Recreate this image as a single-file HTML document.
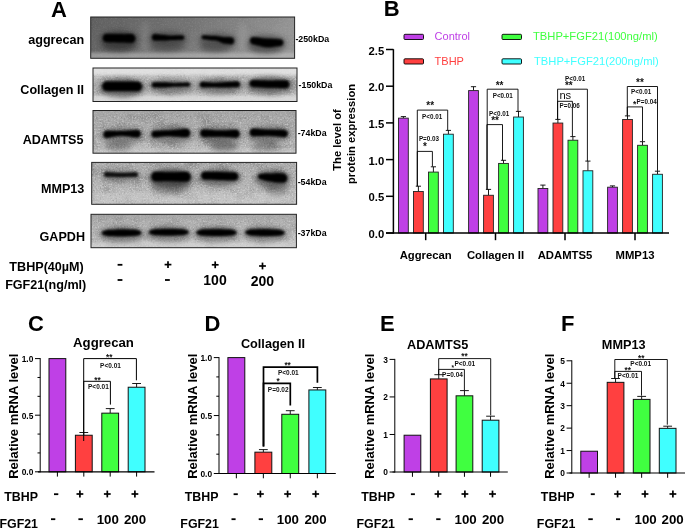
<!DOCTYPE html>
<html lang="en"><head><meta charset="utf-8"><title>FGF21 figure</title>
<style>
html,body{margin:0;padding:0;background:#fff;}
body{width:685px;height:528px;overflow:hidden;}
svg{display:block;font-family:"Liberation Sans", Arial, Helvetica, sans-serif;}
</style></head><body>
<svg width="685" height="528" viewBox="0 0 685 528">
<rect x="0" y="0" width="685" height="528" fill="#fff"/>
<defs>
<filter id="blur1" x="-20%" y="-60%" width="140%" height="220%"><feGaussianBlur stdDeviation="0.9"/></filter>
<filter id="blur2" x="-20%" y="-80%" width="140%" height="260%"><feGaussianBlur stdDeviation="1.6"/></filter>
<filter id="blur3" x="-30%" y="-100%" width="160%" height="300%"><feGaussianBlur stdDeviation="2.6"/></filter>
<filter id="grain" x="0" y="0" width="100%" height="100%" color-interpolation-filters="sRGB">
 <feTurbulence type="fractalNoise" baseFrequency="0.62" numOctaves="2" seed="11" result="n"/>
 <feColorMatrix in="n" type="matrix" values="0 0 0 0 1  0 0 0 0 1  0 0 0 0 1  2.6 0 0 0 -1.2" result="lt"/>
 <feColorMatrix in="n" type="matrix" values="0 0 0 0 0.15  0 0 0 0 0.15  0 0 0 0 0.15  0 -2.2 0 0 0.95" result="dk"/>
 <feTurbulence type="fractalNoise" baseFrequency="0.06 0.09" numOctaves="2" seed="3" result="m"/>
 <feColorMatrix in="m" type="matrix" values="0 0 0 0 0.2  0 0 0 0 0.2  0 0 0 0 0.2  0 0 -1.6 0 0.85" result="mot"/>
 <feMerge><feMergeNode in="mot"/><feMergeNode in="dk"/><feMergeNode in="lt"/></feMerge>
</filter>
<linearGradient id="b1" x1="0" y1="0" x2="1" y2="0.12"><stop offset="0" stop-color="#606060"/><stop offset="0.5" stop-color="#757575"/><stop offset="1" stop-color="#959595"/></linearGradient>
<linearGradient id="b2" x1="0" y1="0" x2="0" y2="1"><stop offset="0" stop-color="#cfcfcf"/><stop offset="0.5" stop-color="#a9a9a9"/><stop offset="1" stop-color="#c4c4c4"/></linearGradient>
<linearGradient id="b3" x1="0" y1="0" x2="0" y2="1"><stop offset="0" stop-color="#a2a2a2"/><stop offset="0.6" stop-color="#adadad"/><stop offset="1" stop-color="#bcbcbc"/></linearGradient>
<linearGradient id="b4" x1="0" y1="0" x2="0" y2="1"><stop offset="0" stop-color="#a8a8a8"/><stop offset="0.5" stop-color="#b2b2b2"/><stop offset="1" stop-color="#bebebe"/></linearGradient>
<linearGradient id="b5" x1="0" y1="0" x2="0.3" y2="1"><stop offset="0" stop-color="#a6a6a6"/><stop offset="0.6" stop-color="#b4b4b4"/><stop offset="1" stop-color="#c6c6c6"/></linearGradient>
<clipPath id="cb1"><rect x="90.7" y="17" width="203.9" height="41.3"/></clipPath>
<clipPath id="cb2"><rect x="93" y="68" width="204.0" height="33.5"/></clipPath>
<clipPath id="cb3"><rect x="93" y="110.5" width="203.0" height="42.7"/></clipPath>
<clipPath id="cb4"><rect x="91.7" y="162.4" width="204.9" height="41.9"/></clipPath>
<clipPath id="cb5"><rect x="91" y="214.3" width="205.4" height="33.4"/></clipPath>
</defs>
<text x="51.0" y="16.5" font-size="22" font-weight="bold" text-anchor="start" fill="#000" >A</text>
<text x="383.8" y="16.3" font-size="22" font-weight="bold" text-anchor="start" fill="#000" >B</text>
<text x="28.0" y="331.0" font-size="22" font-weight="bold" text-anchor="start" fill="#000" >C</text>
<text x="204.5" y="331.0" font-size="22" font-weight="bold" text-anchor="start" fill="#000" >D</text>
<text x="380.0" y="331.0" font-size="22" font-weight="bold" text-anchor="start" fill="#000" >E</text>
<text x="561.0" y="331.0" font-size="22" font-weight="bold" text-anchor="start" fill="#000" >F</text>
<g clip-path="url(#cb1)">
<rect x="90.7" y="17" width="203.9" height="41.3" fill="url(#b1)"/>
<rect x="90.7" y="17" width="203.9" height="41.3" filter="url(#grain)" opacity="0.07"/>
<rect x="88" y="52.5" width="210" height="8" fill="#c4c4c4" opacity="0.55" filter="url(#blur2)"/><rect x="141" y="22" width="8" height="30" fill="#a8a8a8" opacity="0.22" filter="url(#blur3)"/><rect x="238" y="22" width="9" height="30" fill="#b4b4b4" opacity="0.22" filter="url(#blur3)"/>
<ellipse cx="119.1" cy="39.8" rx="19.4" ry="9.5" fill="#1a1a1a" opacity="0.4" filter="url(#blur3)"/><ellipse cx="119.0" cy="46.0" rx="17.0" ry="6.0" fill="#222" opacity="0.35" filter="url(#blur3)"/><path d="M102.7,38.0 L103.9,35.1 L105.0,34.3 L106.2,34.0 L107.4,33.9 L108.5,33.9 L109.7,33.9 L110.9,33.9 L112.0,33.9 L113.2,34.0 L114.4,34.0 L115.5,34.0 L116.7,34.0 L117.9,34.0 L119.1,34.1 L120.2,34.1 L121.4,34.1 L122.6,34.1 L123.7,34.2 L124.9,34.2 L126.1,34.1 L127.2,34.1 L128.4,34.1 L129.6,34.1 L130.7,34.1 L131.9,34.1 L133.1,34.6 L134.2,35.5 L135.4,38.5 L135.4,38.5 L134.2,41.5 L133.1,42.4 L131.9,42.8 L130.7,42.9 L129.6,42.8 L128.4,42.8 L127.2,42.7 L126.1,42.7 L124.9,42.6 L123.7,42.6 L122.6,42.5 L121.4,42.5 L120.2,42.5 L119.1,42.4 L117.9,42.4 L116.7,42.4 L115.5,42.3 L114.4,42.3 L113.2,42.3 L112.0,42.2 L110.9,42.2 L109.7,42.2 L108.5,42.2 L107.4,42.1 L106.2,42.1 L105.0,41.7 L103.9,40.9 L102.7,38.0Z" fill="#222" opacity="0.5" stroke="#222" stroke-width="1.2" stroke-linejoin="round" filter="url(#blur2)"/><path d="M102.7,38.0 L103.9,35.1 L105.0,34.3 L106.2,34.0 L107.4,33.9 L108.5,33.9 L109.7,33.9 L110.9,33.9 L112.0,33.9 L113.2,34.0 L114.4,34.0 L115.5,34.0 L116.7,34.0 L117.9,34.0 L119.1,34.1 L120.2,34.1 L121.4,34.1 L122.6,34.1 L123.7,34.2 L124.9,34.2 L126.1,34.1 L127.2,34.1 L128.4,34.1 L129.6,34.1 L130.7,34.1 L131.9,34.1 L133.1,34.6 L134.2,35.5 L135.4,38.5 L135.4,38.5 L134.2,41.5 L133.1,42.4 L131.9,42.8 L130.7,42.9 L129.6,42.8 L128.4,42.8 L127.2,42.7 L126.1,42.7 L124.9,42.6 L123.7,42.6 L122.6,42.5 L121.4,42.5 L120.2,42.5 L119.1,42.4 L117.9,42.4 L116.7,42.4 L115.5,42.3 L114.4,42.3 L113.2,42.3 L112.0,42.2 L110.9,42.2 L109.7,42.2 L108.5,42.2 L107.4,42.1 L106.2,42.1 L105.0,41.7 L103.9,40.9 L102.7,38.0Z" fill="#040404" opacity="1" filter="url(#blur1)"/><ellipse cx="168.1" cy="39.1" rx="19.2" ry="8.3" fill="#1a1a1a" opacity="0.3" filter="url(#blur3)"/><ellipse cx="168.0" cy="46.0" rx="17.0" ry="6.0" fill="#222" opacity="0.3" filter="url(#blur3)"/><path d="M151.8,37.3 L153.0,34.8 L154.1,34.2 L155.3,34.2 L156.4,34.3 L157.6,34.5 L158.8,34.6 L159.9,34.8 L161.1,34.9 L162.2,35.0 L163.4,35.0 L164.6,35.1 L165.7,35.3 L166.9,35.4 L168.1,35.6 L169.2,35.7 L170.4,35.7 L171.5,35.7 L172.7,35.7 L173.9,35.7 L175.0,35.6 L176.2,35.6 L177.3,35.6 L178.5,35.5 L179.7,35.5 L180.8,35.4 L182.0,35.4 L183.1,35.7 L184.3,37.6 L184.3,37.6 L183.1,39.5 L182.0,39.8 L180.8,39.8 L179.7,39.8 L178.5,39.8 L177.3,39.8 L176.2,39.9 L175.0,39.9 L173.9,39.9 L172.7,39.9 L171.5,39.9 L170.4,40.0 L169.2,40.1 L168.1,40.2 L166.9,40.4 L165.7,40.5 L164.6,40.6 L163.4,40.6 L162.2,40.6 L161.1,40.6 L159.9,40.5 L158.8,40.5 L157.6,40.5 L156.4,40.6 L155.3,40.6 L154.1,40.5 L153.0,39.8 L151.8,37.3Z" fill="#222" opacity="0.5" stroke="#222" stroke-width="1.2" stroke-linejoin="round" filter="url(#blur2)"/><path d="M151.8,37.3 L153.0,34.8 L154.1,34.2 L155.3,34.2 L156.4,34.3 L157.6,34.5 L158.8,34.6 L159.9,34.8 L161.1,34.9 L162.2,35.0 L163.4,35.0 L164.6,35.1 L165.7,35.3 L166.9,35.4 L168.1,35.6 L169.2,35.7 L170.4,35.7 L171.5,35.7 L172.7,35.7 L173.9,35.7 L175.0,35.6 L176.2,35.6 L177.3,35.6 L178.5,35.5 L179.7,35.5 L180.8,35.4 L182.0,35.4 L183.1,35.7 L184.3,37.6 L184.3,37.6 L183.1,39.5 L182.0,39.8 L180.8,39.8 L179.7,39.8 L178.5,39.8 L177.3,39.8 L176.2,39.9 L175.0,39.9 L173.9,39.9 L172.7,39.9 L171.5,39.9 L170.4,40.0 L169.2,40.1 L168.1,40.2 L166.9,40.4 L165.7,40.5 L164.6,40.6 L163.4,40.6 L162.2,40.6 L161.1,40.6 L159.9,40.5 L158.8,40.5 L157.6,40.5 L156.4,40.6 L155.3,40.6 L154.1,40.5 L153.0,39.8 L151.8,37.3Z" fill="#040404" opacity="1" filter="url(#blur1)"/><ellipse cx="217.9" cy="40.7" rx="19.3" ry="8.6" fill="#1a1a1a" opacity="0.3" filter="url(#blur3)"/><ellipse cx="216.0" cy="47.0" rx="16.0" ry="6.0" fill="#222" opacity="0.3" filter="url(#blur3)"/><path d="M201.6,37.2 L202.8,35.5 L203.9,35.5 L205.1,35.5 L206.3,35.6 L207.4,35.7 L208.6,35.8 L209.8,35.9 L210.9,36.0 L212.1,36.0 L213.2,36.1 L214.4,36.1 L215.6,36.1 L216.7,36.2 L217.9,36.3 L219.1,36.5 L220.2,36.7 L221.4,36.9 L222.6,37.0 L223.7,37.2 L224.9,37.3 L226.0,37.3 L227.2,37.3 L228.4,37.3 L229.5,37.3 L230.7,37.4 L231.9,37.6 L233.0,38.3 L234.2,41.0 L234.2,41.0 L233.0,43.6 L231.9,44.2 L230.7,44.3 L229.5,44.0 L228.4,43.9 L227.2,43.7 L226.0,43.7 L224.9,43.6 L223.7,43.4 L222.6,43.0 L221.4,42.5 L220.2,41.9 L219.1,41.4 L217.9,40.9 L216.7,40.6 L215.6,40.4 L214.4,40.3 L213.2,40.3 L212.1,40.2 L210.9,40.1 L209.8,39.9 L208.6,39.7 L207.4,39.5 L206.3,39.4 L205.1,39.2 L203.9,39.1 L202.8,38.9 L201.6,37.2Z" fill="#222" opacity="0.5" stroke="#222" stroke-width="1.2" stroke-linejoin="round" filter="url(#blur2)"/><path d="M201.6,37.2 L202.8,35.5 L203.9,35.5 L205.1,35.5 L206.3,35.6 L207.4,35.7 L208.6,35.8 L209.8,35.9 L210.9,36.0 L212.1,36.0 L213.2,36.1 L214.4,36.1 L215.6,36.1 L216.7,36.2 L217.9,36.3 L219.1,36.5 L220.2,36.7 L221.4,36.9 L222.6,37.0 L223.7,37.2 L224.9,37.3 L226.0,37.3 L227.2,37.3 L228.4,37.3 L229.5,37.3 L230.7,37.4 L231.9,37.6 L233.0,38.3 L234.2,41.0 L234.2,41.0 L233.0,43.6 L231.9,44.2 L230.7,44.3 L229.5,44.0 L228.4,43.9 L227.2,43.7 L226.0,43.7 L224.9,43.6 L223.7,43.4 L222.6,43.0 L221.4,42.5 L220.2,41.9 L219.1,41.4 L217.9,40.9 L216.7,40.6 L215.6,40.4 L214.4,40.3 L213.2,40.3 L212.1,40.2 L210.9,40.1 L209.8,39.9 L208.6,39.7 L207.4,39.5 L206.3,39.4 L205.1,39.2 L203.9,39.1 L202.8,38.9 L201.6,37.2Z" fill="#040404" opacity="1" filter="url(#blur1)"/><ellipse cx="266.7" cy="43.6" rx="19.7" ry="9.3" fill="#1a1a1a" opacity="0.38" filter="url(#blur3)"/><ellipse cx="266.0" cy="49.0" rx="16.0" ry="5.0" fill="#222" opacity="0.2" filter="url(#blur3)"/><path d="M250.0,40.6 L251.2,38.0 L252.4,37.4 L253.6,37.2 L254.8,37.4 L256.0,37.5 L257.2,37.6 L258.4,37.8 L259.5,37.9 L260.7,38.1 L261.9,38.3 L263.1,38.4 L264.3,38.5 L265.5,38.6 L266.7,38.7 L267.9,38.7 L269.1,38.7 L270.3,38.7 L271.5,38.8 L272.7,38.9 L273.9,38.9 L275.0,39.0 L276.2,39.1 L277.4,39.2 L278.6,39.3 L279.8,39.4 L281.0,39.6 L282.2,40.2 L283.4,42.6 L283.4,42.6 L282.2,45.1 L281.0,45.7 L279.8,45.9 L278.6,46.1 L277.4,46.2 L276.2,46.4 L275.0,46.6 L273.9,46.8 L272.7,47.0 L271.5,47.1 L270.3,47.2 L269.1,47.3 L267.9,47.3 L266.7,47.2 L265.5,47.1 L264.3,46.9 L263.1,46.7 L261.9,46.4 L260.7,46.1 L259.5,45.8 L258.4,45.5 L257.2,45.2 L256.0,44.9 L254.8,44.6 L253.6,44.4 L252.4,44.0 L251.2,43.3 L250.0,40.6Z" fill="#222" opacity="0.5" stroke="#222" stroke-width="1.2" stroke-linejoin="round" filter="url(#blur2)"/><path d="M250.0,40.6 L251.2,38.0 L252.4,37.4 L253.6,37.2 L254.8,37.4 L256.0,37.5 L257.2,37.6 L258.4,37.8 L259.5,37.9 L260.7,38.1 L261.9,38.3 L263.1,38.4 L264.3,38.5 L265.5,38.6 L266.7,38.7 L267.9,38.7 L269.1,38.7 L270.3,38.7 L271.5,38.8 L272.7,38.9 L273.9,38.9 L275.0,39.0 L276.2,39.1 L277.4,39.2 L278.6,39.3 L279.8,39.4 L281.0,39.6 L282.2,40.2 L283.4,42.6 L283.4,42.6 L282.2,45.1 L281.0,45.7 L279.8,45.9 L278.6,46.1 L277.4,46.2 L276.2,46.4 L275.0,46.6 L273.9,46.8 L272.7,47.0 L271.5,47.1 L270.3,47.2 L269.1,47.3 L267.9,47.3 L266.7,47.2 L265.5,47.1 L264.3,46.9 L263.1,46.7 L261.9,46.4 L260.7,46.1 L259.5,45.8 L258.4,45.5 L257.2,45.2 L256.0,44.9 L254.8,44.6 L253.6,44.4 L252.4,44.0 L251.2,43.3 L250.0,40.6Z" fill="#040404" opacity="1" filter="url(#blur1)"/>
</g>
<rect x="90.7" y="17" width="203.9" height="41.3" fill="none" stroke="#222" stroke-width="1"/>
<g clip-path="url(#cb2)">
<rect x="93" y="68" width="204.0" height="33.5" fill="url(#b2)"/>
<rect x="93" y="68" width="204.0" height="33.5" filter="url(#grain)" opacity="0.3"/>
<rect x="90" y="66" width="210" height="9" fill="#e6e6e6" opacity="0.8" filter="url(#blur2)"/><rect x="90" y="95.5" width="210" height="8" fill="#dedede" opacity="0.8" filter="url(#blur2)"/>
<ellipse cx="122.1" cy="87.9" rx="22.9" ry="9.7" fill="#1a1a1a" opacity="0.5" filter="url(#blur3)"/><path d="M102.2,86.3 L103.6,83.0 L105.0,82.1 L106.5,81.8 L107.9,81.8 L109.3,81.8 L110.7,81.7 L112.2,81.7 L113.6,81.7 L115.0,81.7 L116.4,81.7 L117.8,81.7 L119.3,81.7 L120.7,81.7 L122.1,81.7 L123.5,81.7 L124.9,81.7 L126.4,81.7 L127.8,81.8 L129.2,81.8 L130.6,81.8 L132.1,81.8 L133.5,81.8 L134.9,81.9 L136.3,81.9 L137.7,81.9 L139.2,82.2 L140.6,83.2 L142.0,86.5 L142.0,86.5 L140.6,89.8 L139.2,90.8 L137.7,91.1 L136.3,91.1 L134.9,91.1 L133.5,91.1 L132.1,91.1 L130.6,91.1 L129.2,91.1 L127.8,91.1 L126.4,91.1 L124.9,91.1 L123.5,91.1 L122.1,91.1 L120.7,91.1 L119.3,91.1 L117.8,91.0 L116.4,91.0 L115.0,91.0 L113.6,91.0 L112.2,90.9 L110.7,90.9 L109.3,90.9 L107.9,90.8 L106.5,90.8 L105.0,90.5 L103.6,89.6 L102.2,86.3Z" fill="#222" opacity="0.5" stroke="#222" stroke-width="1.2" stroke-linejoin="round" filter="url(#blur2)"/><path d="M102.2,86.3 L103.6,83.0 L105.0,82.1 L106.5,81.8 L107.9,81.8 L109.3,81.8 L110.7,81.7 L112.2,81.7 L113.6,81.7 L115.0,81.7 L116.4,81.7 L117.8,81.7 L119.3,81.7 L120.7,81.7 L122.1,81.7 L123.5,81.7 L124.9,81.7 L126.4,81.7 L127.8,81.8 L129.2,81.8 L130.6,81.8 L132.1,81.8 L133.5,81.8 L134.9,81.9 L136.3,81.9 L137.7,81.9 L139.2,82.2 L140.6,83.2 L142.0,86.5 L142.0,86.5 L140.6,89.8 L139.2,90.8 L137.7,91.1 L136.3,91.1 L134.9,91.1 L133.5,91.1 L132.1,91.1 L130.6,91.1 L129.2,91.1 L127.8,91.1 L126.4,91.1 L124.9,91.1 L123.5,91.1 L122.1,91.1 L120.7,91.1 L119.3,91.1 L117.8,91.0 L116.4,91.0 L115.0,91.0 L113.6,91.0 L112.2,90.9 L110.7,90.9 L109.3,90.9 L107.9,90.8 L106.5,90.8 L105.0,90.5 L103.6,89.6 L102.2,86.3Z" fill="#040404" opacity="1" filter="url(#blur1)"/><ellipse cx="171.0" cy="86.3" rx="22.2" ry="7.4" fill="#1a1a1a" opacity="0.36" filter="url(#blur3)"/><path d="M151.8,84.9 L153.2,82.7 L154.5,82.5 L155.9,82.5 L157.3,82.5 L158.7,82.6 L160.0,82.6 L161.4,82.6 L162.8,82.6 L164.1,82.6 L165.5,82.6 L166.9,82.6 L168.3,82.7 L169.6,82.9 L171.0,83.0 L172.4,83.1 L173.7,83.2 L175.1,83.2 L176.5,83.2 L177.9,83.1 L179.2,83.1 L180.6,83.0 L182.0,83.0 L183.3,82.9 L184.7,82.9 L186.1,82.8 L187.5,82.8 L188.8,82.8 L190.2,84.5 L190.2,84.5 L188.8,86.2 L187.5,86.3 L186.1,86.3 L184.7,86.3 L183.3,86.3 L182.0,86.3 L180.6,86.4 L179.2,86.4 L177.9,86.4 L176.5,86.5 L175.1,86.5 L173.7,86.6 L172.4,86.6 L171.0,86.8 L169.6,86.9 L168.3,87.1 L166.9,87.2 L165.5,87.2 L164.1,87.2 L162.8,87.2 L161.4,87.2 L160.0,87.2 L158.7,87.2 L157.3,87.3 L155.9,87.3 L154.5,87.3 L153.2,87.1 L151.8,84.9Z" fill="#222" opacity="0.5" stroke="#222" stroke-width="1.2" stroke-linejoin="round" filter="url(#blur2)"/><path d="M151.8,84.9 L153.2,82.7 L154.5,82.5 L155.9,82.5 L157.3,82.5 L158.7,82.6 L160.0,82.6 L161.4,82.6 L162.8,82.6 L164.1,82.6 L165.5,82.6 L166.9,82.6 L168.3,82.7 L169.6,82.9 L171.0,83.0 L172.4,83.1 L173.7,83.2 L175.1,83.2 L176.5,83.2 L177.9,83.1 L179.2,83.1 L180.6,83.0 L182.0,83.0 L183.3,82.9 L184.7,82.9 L186.1,82.8 L187.5,82.8 L188.8,82.8 L190.2,84.5 L190.2,84.5 L188.8,86.2 L187.5,86.3 L186.1,86.3 L184.7,86.3 L183.3,86.3 L182.0,86.3 L180.6,86.4 L179.2,86.4 L177.9,86.4 L176.5,86.5 L175.1,86.5 L173.7,86.6 L172.4,86.6 L171.0,86.8 L169.6,86.9 L168.3,87.1 L166.9,87.2 L165.5,87.2 L164.1,87.2 L162.8,87.2 L161.4,87.2 L160.0,87.2 L158.7,87.2 L157.3,87.3 L155.9,87.3 L154.5,87.3 L153.2,87.1 L151.8,84.9Z" fill="#040404" opacity="1" filter="url(#blur1)"/><ellipse cx="219.9" cy="86.1" rx="23.1" ry="7.8" fill="#1a1a1a" opacity="0.4" filter="url(#blur3)"/><path d="M199.8,84.6 L201.2,82.3 L202.7,82.1 L204.1,82.2 L205.5,82.3 L207.0,82.4 L208.4,82.6 L209.9,82.7 L211.3,82.8 L212.7,82.9 L214.2,82.9 L215.6,82.9 L217.0,82.8 L218.5,82.8 L219.9,82.7 L221.3,82.5 L222.8,82.4 L224.2,82.3 L225.6,82.2 L227.1,82.1 L228.5,82.0 L229.9,81.9 L231.4,81.9 L232.8,81.8 L234.3,81.7 L235.7,81.6 L237.1,81.6 L238.6,81.9 L240.0,84.3 L240.0,84.3 L238.6,86.7 L237.1,87.1 L235.7,87.1 L234.3,87.1 L232.8,87.1 L231.4,87.1 L229.9,87.2 L228.5,87.2 L227.1,87.3 L225.6,87.3 L224.2,87.3 L222.8,87.3 L221.3,87.3 L219.9,87.2 L218.5,87.2 L217.0,87.2 L215.6,87.1 L214.2,87.1 L212.7,87.1 L211.3,87.1 L209.9,87.1 L208.4,87.1 L207.0,87.1 L205.5,87.1 L204.1,87.2 L202.7,87.2 L201.2,86.9 L199.8,84.6Z" fill="#222" opacity="0.5" stroke="#222" stroke-width="1.2" stroke-linejoin="round" filter="url(#blur2)"/><path d="M199.8,84.6 L201.2,82.3 L202.7,82.1 L204.1,82.2 L205.5,82.3 L207.0,82.4 L208.4,82.6 L209.9,82.7 L211.3,82.8 L212.7,82.9 L214.2,82.9 L215.6,82.9 L217.0,82.8 L218.5,82.8 L219.9,82.7 L221.3,82.5 L222.8,82.4 L224.2,82.3 L225.6,82.2 L227.1,82.1 L228.5,82.0 L229.9,81.9 L231.4,81.9 L232.8,81.8 L234.3,81.7 L235.7,81.6 L237.1,81.6 L238.6,81.9 L240.0,84.3 L240.0,84.3 L238.6,86.7 L237.1,87.1 L235.7,87.1 L234.3,87.1 L232.8,87.1 L231.4,87.1 L229.9,87.2 L228.5,87.2 L227.1,87.3 L225.6,87.3 L224.2,87.3 L222.8,87.3 L221.3,87.3 L219.9,87.2 L218.5,87.2 L217.0,87.2 L215.6,87.1 L214.2,87.1 L212.7,87.1 L211.3,87.1 L209.9,87.1 L208.4,87.1 L207.0,87.1 L205.5,87.1 L204.1,87.2 L202.7,87.2 L201.2,86.9 L199.8,84.6Z" fill="#040404" opacity="1" filter="url(#blur1)"/><ellipse cx="269.4" cy="85.4" rx="22.9" ry="8.8" fill="#1a1a1a" opacity="0.48" filter="url(#blur3)"/><path d="M249.6,83.4 L251.0,80.7 L252.4,80.2 L253.9,80.2 L255.3,80.2 L256.7,80.3 L258.1,80.3 L259.5,80.4 L260.9,80.5 L262.4,80.5 L263.8,80.6 L265.2,80.6 L266.6,80.7 L268.0,80.7 L269.4,80.7 L270.9,80.7 L272.3,80.7 L273.7,80.7 L275.1,80.6 L276.5,80.6 L278.0,80.6 L279.4,80.5 L280.8,80.5 L282.2,80.5 L283.6,80.5 L285.0,80.4 L286.5,80.5 L287.9,81.2 L289.3,84.2 L289.3,84.2 L287.9,87.2 L286.5,87.9 L285.0,88.0 L283.6,87.9 L282.2,87.9 L280.8,87.9 L279.4,87.9 L278.0,87.8 L276.5,87.8 L275.1,87.8 L273.7,87.7 L272.3,87.7 L270.9,87.7 L269.4,87.7 L268.0,87.7 L266.6,87.7 L265.2,87.6 L263.8,87.5 L262.4,87.4 L260.9,87.3 L259.5,87.2 L258.1,87.1 L256.7,87.0 L255.3,86.9 L253.9,86.8 L252.4,86.7 L251.0,86.1 L249.6,83.4Z" fill="#222" opacity="0.5" stroke="#222" stroke-width="1.2" stroke-linejoin="round" filter="url(#blur2)"/><path d="M249.6,83.4 L251.0,80.7 L252.4,80.2 L253.9,80.2 L255.3,80.2 L256.7,80.3 L258.1,80.3 L259.5,80.4 L260.9,80.5 L262.4,80.5 L263.8,80.6 L265.2,80.6 L266.6,80.7 L268.0,80.7 L269.4,80.7 L270.9,80.7 L272.3,80.7 L273.7,80.7 L275.1,80.6 L276.5,80.6 L278.0,80.6 L279.4,80.5 L280.8,80.5 L282.2,80.5 L283.6,80.5 L285.0,80.4 L286.5,80.5 L287.9,81.2 L289.3,84.2 L289.3,84.2 L287.9,87.2 L286.5,87.9 L285.0,88.0 L283.6,87.9 L282.2,87.9 L280.8,87.9 L279.4,87.9 L278.0,87.8 L276.5,87.8 L275.1,87.8 L273.7,87.7 L272.3,87.7 L270.9,87.7 L269.4,87.7 L268.0,87.7 L266.6,87.7 L265.2,87.6 L263.8,87.5 L262.4,87.4 L260.9,87.3 L259.5,87.2 L258.1,87.1 L256.7,87.0 L255.3,86.9 L253.9,86.8 L252.4,86.7 L251.0,86.1 L249.6,83.4Z" fill="#040404" opacity="1" filter="url(#blur1)"/>
</g>
<rect x="93" y="68" width="204.0" height="33.5" fill="none" stroke="#222" stroke-width="1"/>
<g clip-path="url(#cb3)">
<rect x="93" y="110.5" width="203.0" height="42.7" fill="url(#b3)"/>
<rect x="93" y="110.5" width="203.0" height="42.7" filter="url(#grain)" opacity="0.36"/>
<rect x="90" y="108" width="210" height="7" fill="#a8a8a8" opacity="0.5" filter="url(#blur2)"/><rect x="90" y="148.5" width="210" height="6" fill="#d0d0d0" opacity="0.5" filter="url(#blur2)"/>
<ellipse cx="122.1" cy="135.4" rx="21.6" ry="8.7" fill="#1a1a1a" opacity="0.32" filter="url(#blur3)"/><ellipse cx="118.0" cy="146.0" rx="14.0" ry="5.0" fill="#222" opacity="0.28" filter="url(#blur3)"/><path d="M103.5,134.4 L104.8,131.6 L106.2,130.9 L107.5,130.9 L108.8,130.9 L110.1,131.0 L111.5,131.0 L112.8,131.1 L114.1,131.1 L115.5,131.1 L116.8,131.2 L118.1,131.2 L119.4,131.1 L120.8,131.1 L122.1,131.1 L123.4,131.0 L124.8,131.0 L126.1,130.9 L127.4,130.8 L128.7,130.7 L130.1,130.6 L131.4,130.5 L132.7,130.4 L134.1,130.3 L135.4,130.2 L136.7,130.2 L138.0,130.3 L139.4,131.0 L140.7,133.8 L140.7,133.8 L139.4,136.6 L138.0,137.3 L136.7,137.3 L135.4,137.2 L134.1,137.1 L132.7,136.9 L131.4,136.7 L130.1,136.5 L128.7,136.3 L127.4,136.2 L126.1,136.0 L124.8,135.9 L123.4,135.8 L122.1,135.7 L120.8,135.7 L119.4,135.8 L118.1,135.9 L116.8,136.0 L115.5,136.2 L114.1,136.5 L112.8,136.7 L111.5,137.0 L110.1,137.3 L108.8,137.5 L107.5,137.7 L106.2,137.8 L104.8,137.2 L103.5,134.4Z" fill="#222" opacity="0.5" stroke="#222" stroke-width="1.2" stroke-linejoin="round" filter="url(#blur2)"/><path d="M103.5,134.4 L104.8,131.6 L106.2,130.9 L107.5,130.9 L108.8,130.9 L110.1,131.0 L111.5,131.0 L112.8,131.1 L114.1,131.1 L115.5,131.1 L116.8,131.2 L118.1,131.2 L119.4,131.1 L120.8,131.1 L122.1,131.1 L123.4,131.0 L124.8,131.0 L126.1,130.9 L127.4,130.8 L128.7,130.7 L130.1,130.6 L131.4,130.5 L132.7,130.4 L134.1,130.3 L135.4,130.2 L136.7,130.2 L138.0,130.3 L139.4,131.0 L140.7,133.8 L140.7,133.8 L139.4,136.6 L138.0,137.3 L136.7,137.3 L135.4,137.2 L134.1,137.1 L132.7,136.9 L131.4,136.7 L130.1,136.5 L128.7,136.3 L127.4,136.2 L126.1,136.0 L124.8,135.9 L123.4,135.8 L122.1,135.7 L120.8,135.7 L119.4,135.8 L118.1,135.9 L116.8,136.0 L115.5,136.2 L114.1,136.5 L112.8,136.7 L111.5,137.0 L110.1,137.3 L108.8,137.5 L107.5,137.7 L106.2,137.8 L104.8,137.2 L103.5,134.4Z" fill="#040404" opacity="1" filter="url(#blur1)"/><ellipse cx="170.8" cy="135.0" rx="22.3" ry="9.2" fill="#1a1a1a" opacity="0.34" filter="url(#blur3)"/><path d="M151.5,134.2 L152.9,131.6 L154.3,131.0 L155.6,131.0 L157.0,130.9 L158.4,130.9 L159.8,130.8 L161.2,130.8 L162.6,130.7 L163.9,130.6 L165.3,130.6 L166.7,130.5 L168.1,130.4 L169.5,130.4 L170.8,130.3 L172.2,130.2 L173.6,130.1 L175.0,130.0 L176.4,129.9 L177.8,129.7 L179.1,129.6 L180.5,129.4 L181.9,129.3 L183.3,129.1 L184.7,129.0 L186.1,128.9 L187.4,129.1 L188.8,129.9 L190.2,133.0 L190.2,133.0 L188.8,136.1 L187.4,136.9 L186.1,137.1 L184.7,137.1 L183.3,137.0 L181.9,136.9 L180.5,136.8 L179.1,136.7 L177.8,136.6 L176.4,136.5 L175.0,136.4 L173.6,136.3 L172.2,136.2 L170.8,136.1 L169.5,136.1 L168.1,136.1 L166.7,136.1 L165.3,136.2 L163.9,136.3 L162.6,136.5 L161.2,136.6 L159.8,136.8 L158.4,137.0 L157.0,137.1 L155.6,137.2 L154.3,137.3 L152.9,136.8 L151.5,134.2Z" fill="#222" opacity="0.5" stroke="#222" stroke-width="1.2" stroke-linejoin="round" filter="url(#blur2)"/><path d="M151.5,134.2 L152.9,131.6 L154.3,131.0 L155.6,131.0 L157.0,130.9 L158.4,130.9 L159.8,130.8 L161.2,130.8 L162.6,130.7 L163.9,130.6 L165.3,130.6 L166.7,130.5 L168.1,130.4 L169.5,130.4 L170.8,130.3 L172.2,130.2 L173.6,130.1 L175.0,130.0 L176.4,129.9 L177.8,129.7 L179.1,129.6 L180.5,129.4 L181.9,129.3 L183.3,129.1 L184.7,129.0 L186.1,128.9 L187.4,129.1 L188.8,129.9 L190.2,133.0 L190.2,133.0 L188.8,136.1 L187.4,136.9 L186.1,137.1 L184.7,137.1 L183.3,137.0 L181.9,136.9 L180.5,136.8 L179.1,136.7 L177.8,136.6 L176.4,136.5 L175.0,136.4 L173.6,136.3 L172.2,136.2 L170.8,136.1 L169.5,136.1 L168.1,136.1 L166.7,136.1 L165.3,136.2 L163.9,136.3 L162.6,136.5 L161.2,136.6 L159.8,136.8 L158.4,137.0 L157.0,137.1 L155.6,137.2 L154.3,137.3 L152.9,136.8 L151.5,134.2Z" fill="#040404" opacity="1" filter="url(#blur1)"/><ellipse cx="219.9" cy="135.0" rx="22.7" ry="8.8" fill="#1a1a1a" opacity="0.34" filter="url(#blur3)"/><ellipse cx="224.0" cy="146.0" rx="14.0" ry="5.5" fill="#222" opacity="0.4" filter="url(#blur3)"/><path d="M200.2,133.2 L201.6,130.3 L203.0,129.7 L204.4,129.6 L205.8,129.7 L207.2,129.8 L208.6,129.9 L210.0,130.0 L211.5,130.1 L212.9,130.2 L214.3,130.3 L215.7,130.4 L217.1,130.5 L218.5,130.5 L219.9,130.5 L221.3,130.5 L222.7,130.5 L224.1,130.4 L225.5,130.4 L226.9,130.4 L228.3,130.3 L229.8,130.2 L231.2,130.2 L232.6,130.1 L234.0,130.1 L235.4,130.1 L236.8,130.1 L238.2,130.8 L239.6,133.8 L239.6,133.8 L238.2,136.7 L236.8,137.4 L235.4,137.5 L234.0,137.4 L232.6,137.3 L231.2,137.3 L229.8,137.1 L228.3,137.0 L226.9,137.0 L225.5,136.9 L224.1,136.8 L222.7,136.7 L221.3,136.7 L219.9,136.7 L218.5,136.7 L217.1,136.7 L215.7,136.7 L214.3,136.7 L212.9,136.8 L211.5,136.8 L210.0,136.8 L208.6,136.8 L207.2,136.8 L205.8,136.9 L204.4,136.9 L203.0,136.8 L201.6,136.1 L200.2,133.2Z" fill="#222" opacity="0.5" stroke="#222" stroke-width="1.2" stroke-linejoin="round" filter="url(#blur2)"/><path d="M200.2,133.2 L201.6,130.3 L203.0,129.7 L204.4,129.6 L205.8,129.7 L207.2,129.8 L208.6,129.9 L210.0,130.0 L211.5,130.1 L212.9,130.2 L214.3,130.3 L215.7,130.4 L217.1,130.5 L218.5,130.5 L219.9,130.5 L221.3,130.5 L222.7,130.5 L224.1,130.4 L225.5,130.4 L226.9,130.4 L228.3,130.3 L229.8,130.2 L231.2,130.2 L232.6,130.1 L234.0,130.1 L235.4,130.1 L236.8,130.1 L238.2,130.8 L239.6,133.8 L239.6,133.8 L238.2,136.7 L236.8,137.4 L235.4,137.5 L234.0,137.4 L232.6,137.3 L231.2,137.3 L229.8,137.1 L228.3,137.0 L226.9,137.0 L225.5,136.9 L224.1,136.8 L222.7,136.7 L221.3,136.7 L219.9,136.7 L218.5,136.7 L217.1,136.7 L215.7,136.7 L214.3,136.7 L212.9,136.8 L211.5,136.8 L210.0,136.8 L208.6,136.8 L207.2,136.8 L205.8,136.9 L204.4,136.9 L203.0,136.8 L201.6,136.1 L200.2,133.2Z" fill="#040404" opacity="1" filter="url(#blur1)"/><ellipse cx="268.8" cy="134.4" rx="22.1" ry="8.8" fill="#1a1a1a" opacity="0.34" filter="url(#blur3)"/><ellipse cx="266.0" cy="146.0" rx="14.0" ry="5.0" fill="#222" opacity="0.3" filter="url(#blur3)"/><path d="M249.7,132.4 L251.1,129.5 L252.4,128.8 L253.8,128.7 L255.1,128.8 L256.5,128.9 L257.9,129.1 L259.2,129.2 L260.6,129.3 L261.9,129.5 L263.3,129.6 L264.7,129.7 L266.0,129.7 L267.4,129.8 L268.8,129.8 L270.1,129.8 L271.5,129.8 L272.8,129.8 L274.2,129.9 L275.6,129.9 L276.9,130.0 L278.3,130.0 L279.6,130.0 L281.0,130.1 L282.4,130.1 L283.7,130.2 L285.1,130.2 L286.4,130.9 L287.8,133.6 L287.8,133.6 L286.4,136.3 L285.1,136.9 L283.7,136.9 L282.4,136.8 L281.0,136.7 L279.6,136.5 L278.3,136.4 L276.9,136.3 L275.6,136.1 L274.2,136.0 L272.8,135.9 L271.5,135.9 L270.1,135.8 L268.8,135.8 L267.4,135.8 L266.0,135.8 L264.7,135.8 L263.3,135.9 L261.9,135.9 L260.6,136.0 L259.2,136.0 L257.9,136.0 L256.5,136.1 L255.1,136.1 L253.8,136.2 L252.4,136.0 L251.1,135.3 L249.7,132.4Z" fill="#222" opacity="0.5" stroke="#222" stroke-width="1.2" stroke-linejoin="round" filter="url(#blur2)"/><path d="M249.7,132.4 L251.1,129.5 L252.4,128.8 L253.8,128.7 L255.1,128.8 L256.5,128.9 L257.9,129.1 L259.2,129.2 L260.6,129.3 L261.9,129.5 L263.3,129.6 L264.7,129.7 L266.0,129.7 L267.4,129.8 L268.8,129.8 L270.1,129.8 L271.5,129.8 L272.8,129.8 L274.2,129.9 L275.6,129.9 L276.9,130.0 L278.3,130.0 L279.6,130.0 L281.0,130.1 L282.4,130.1 L283.7,130.2 L285.1,130.2 L286.4,130.9 L287.8,133.6 L287.8,133.6 L286.4,136.3 L285.1,136.9 L283.7,136.9 L282.4,136.8 L281.0,136.7 L279.6,136.5 L278.3,136.4 L276.9,136.3 L275.6,136.1 L274.2,136.0 L272.8,135.9 L271.5,135.9 L270.1,135.8 L268.8,135.8 L267.4,135.8 L266.0,135.8 L264.7,135.8 L263.3,135.9 L261.9,135.9 L260.6,136.0 L259.2,136.0 L257.9,136.0 L256.5,136.1 L255.1,136.1 L253.8,136.2 L252.4,136.0 L251.1,135.3 L249.7,132.4Z" fill="#040404" opacity="1" filter="url(#blur1)"/>
</g>
<rect x="93" y="110.5" width="203.0" height="42.7" fill="none" stroke="#222" stroke-width="1"/>
<g clip-path="url(#cb4)">
<rect x="91.7" y="162.4" width="204.9" height="41.9" fill="url(#b4)"/>
<rect x="91.7" y="162.4" width="204.9" height="41.9" filter="url(#grain)" opacity="0.36"/>
<rect x="90" y="193" width="210" height="13" fill="#d8d8d8" opacity="0.3" filter="url(#blur3)"/>
<ellipse cx="121.0" cy="176.2" rx="20.0" ry="7.3" fill="#1a1a1a" opacity="0.25" filter="url(#blur3)"/><path d="M104.0,174.4 L105.2,172.4 L106.4,172.1 L107.6,172.2 L108.9,172.3 L110.1,172.4 L111.3,172.5 L112.5,172.6 L113.7,172.7 L114.9,172.8 L116.1,172.9 L117.4,173.0 L118.6,173.1 L119.8,173.1 L121.0,173.1 L122.2,173.1 L123.4,173.1 L124.6,173.0 L125.9,173.0 L127.1,172.9 L128.3,172.9 L129.5,172.8 L130.7,172.7 L131.9,172.7 L133.1,172.6 L134.4,172.6 L135.6,172.5 L136.8,172.7 L138.0,174.6 L138.0,174.6 L136.8,176.5 L135.6,176.7 L134.4,176.7 L133.1,176.7 L131.9,176.8 L130.7,176.8 L129.5,176.8 L128.3,176.8 L127.1,176.8 L125.9,176.9 L124.6,176.9 L123.4,176.9 L122.2,176.9 L121.0,176.9 L119.8,176.9 L118.6,176.9 L117.4,176.9 L116.1,176.9 L114.9,176.8 L113.7,176.8 L112.5,176.8 L111.3,176.8 L110.1,176.8 L108.9,176.7 L107.6,176.7 L106.4,176.7 L105.2,176.4 L104.0,174.4Z" fill="#222" opacity="0.5" stroke="#222" stroke-width="1.2" stroke-linejoin="round" filter="url(#blur2)"/><path d="M104.0,174.4 L105.2,172.4 L106.4,172.1 L107.6,172.2 L108.9,172.3 L110.1,172.4 L111.3,172.5 L112.5,172.6 L113.7,172.7 L114.9,172.8 L116.1,172.9 L117.4,173.0 L118.6,173.1 L119.8,173.1 L121.0,173.1 L122.2,173.1 L123.4,173.1 L124.6,173.0 L125.9,173.0 L127.1,172.9 L128.3,172.9 L129.5,172.8 L130.7,172.7 L131.9,172.7 L133.1,172.6 L134.4,172.6 L135.6,172.5 L136.8,172.7 L138.0,174.6 L138.0,174.6 L136.8,176.5 L135.6,176.7 L134.4,176.7 L133.1,176.7 L131.9,176.8 L130.7,176.8 L129.5,176.8 L128.3,176.8 L127.1,176.8 L125.9,176.9 L124.6,176.9 L123.4,176.9 L122.2,176.9 L121.0,176.9 L119.8,176.9 L118.6,176.9 L117.4,176.9 L116.1,176.9 L114.9,176.8 L113.7,176.8 L112.5,176.8 L111.3,176.8 L110.1,176.8 L108.9,176.7 L107.6,176.7 L106.4,176.7 L105.2,176.4 L104.0,174.4Z" fill="#040404" opacity="0.85" filter="url(#blur1)"/><ellipse cx="170.9" cy="178.2" rx="22.6" ry="9.9" fill="#1a1a1a" opacity="0.55" filter="url(#blur3)"/><ellipse cx="171.0" cy="186.0" rx="19.0" ry="8.0" fill="#222" opacity="0.3" filter="url(#blur3)"/><path d="M151.3,176.6 L152.7,173.3 L154.1,172.3 L155.5,172.0 L156.9,172.0 L158.3,172.0 L159.7,172.1 L161.1,172.1 L162.5,172.1 L163.9,172.2 L165.3,172.2 L166.7,172.3 L168.1,172.3 L169.5,172.3 L170.9,172.3 L172.4,172.3 L173.8,172.3 L175.2,172.2 L176.6,172.2 L178.0,172.2 L179.4,172.1 L180.8,172.1 L182.2,172.0 L183.6,172.0 L185.0,172.0 L186.4,172.0 L187.8,172.4 L189.2,173.4 L190.6,176.8 L190.6,176.8 L189.2,180.2 L187.8,181.2 L186.4,181.6 L185.0,181.6 L183.6,181.6 L182.2,181.5 L180.8,181.5 L179.4,181.4 L178.0,181.3 L176.6,181.3 L175.2,181.2 L173.8,181.2 L172.4,181.1 L170.9,181.1 L169.5,181.1 L168.1,181.1 L166.7,181.1 L165.3,181.1 L163.9,181.1 L162.5,181.1 L161.1,181.2 L159.7,181.2 L158.3,181.2 L156.9,181.2 L155.5,181.2 L154.1,180.9 L152.7,179.9 L151.3,176.6Z" fill="#222" opacity="0.5" stroke="#222" stroke-width="1.2" stroke-linejoin="round" filter="url(#blur2)"/><path d="M151.3,176.6 L152.7,173.3 L154.1,172.3 L155.5,172.0 L156.9,172.0 L158.3,172.0 L159.7,172.1 L161.1,172.1 L162.5,172.1 L163.9,172.2 L165.3,172.2 L166.7,172.3 L168.1,172.3 L169.5,172.3 L170.9,172.3 L172.4,172.3 L173.8,172.3 L175.2,172.2 L176.6,172.2 L178.0,172.2 L179.4,172.1 L180.8,172.1 L182.2,172.0 L183.6,172.0 L185.0,172.0 L186.4,172.0 L187.8,172.4 L189.2,173.4 L190.6,176.8 L190.6,176.8 L189.2,180.2 L187.8,181.2 L186.4,181.6 L185.0,181.6 L183.6,181.6 L182.2,181.5 L180.8,181.5 L179.4,181.4 L178.0,181.3 L176.6,181.3 L175.2,181.2 L173.8,181.2 L172.4,181.1 L170.9,181.1 L169.5,181.1 L168.1,181.1 L166.7,181.1 L165.3,181.1 L163.9,181.1 L162.5,181.1 L161.1,181.2 L159.7,181.2 L158.3,181.2 L156.9,181.2 L155.5,181.2 L154.1,180.9 L152.7,179.9 L151.3,176.6Z" fill="#040404" opacity="1" filter="url(#blur1)"/><ellipse cx="219.7" cy="177.5" rx="21.5" ry="9.0" fill="#1a1a1a" opacity="0.45" filter="url(#blur3)"/><path d="M201.2,175.6 L202.5,172.8 L203.8,172.1 L205.2,171.9 L206.5,171.9 L207.8,171.9 L209.1,171.9 L210.4,171.9 L211.8,171.9 L213.1,171.9 L214.4,171.9 L215.7,171.9 L217.1,171.9 L218.4,172.0 L219.7,172.0 L221.0,172.0 L222.3,172.1 L223.7,172.2 L225.0,172.2 L226.3,172.3 L227.6,172.3 L228.9,172.4 L230.3,172.4 L231.6,172.5 L232.9,172.5 L234.2,172.6 L235.6,172.8 L236.9,173.5 L238.2,176.4 L238.2,176.4 L236.9,179.3 L235.6,180.0 L234.2,180.2 L232.9,180.2 L231.6,180.2 L230.3,180.2 L228.9,180.2 L227.6,180.2 L226.3,180.2 L225.0,180.1 L223.7,180.1 L222.3,180.1 L221.0,180.0 L219.7,180.0 L218.4,180.0 L217.1,179.9 L215.7,179.8 L214.4,179.8 L213.1,179.7 L211.8,179.6 L210.4,179.6 L209.1,179.5 L207.8,179.4 L206.5,179.4 L205.2,179.4 L203.8,179.2 L202.5,178.4 L201.2,175.6Z" fill="#222" opacity="0.5" stroke="#222" stroke-width="1.2" stroke-linejoin="round" filter="url(#blur2)"/><path d="M201.2,175.6 L202.5,172.8 L203.8,172.1 L205.2,171.9 L206.5,171.9 L207.8,171.9 L209.1,171.9 L210.4,171.9 L211.8,171.9 L213.1,171.9 L214.4,171.9 L215.7,171.9 L217.1,171.9 L218.4,172.0 L219.7,172.0 L221.0,172.0 L222.3,172.1 L223.7,172.2 L225.0,172.2 L226.3,172.3 L227.6,172.3 L228.9,172.4 L230.3,172.4 L231.6,172.5 L232.9,172.5 L234.2,172.6 L235.6,172.8 L236.9,173.5 L238.2,176.4 L238.2,176.4 L236.9,179.3 L235.6,180.0 L234.2,180.2 L232.9,180.2 L231.6,180.2 L230.3,180.2 L228.9,180.2 L227.6,180.2 L226.3,180.2 L225.0,180.1 L223.7,180.1 L222.3,180.1 L221.0,180.0 L219.7,180.0 L218.4,180.0 L217.1,179.9 L215.7,179.8 L214.4,179.8 L213.1,179.7 L211.8,179.6 L210.4,179.6 L209.1,179.5 L207.8,179.4 L206.5,179.4 L205.2,179.4 L203.8,179.2 L202.5,178.4 L201.2,175.6Z" fill="#040404" opacity="1" filter="url(#blur1)"/><ellipse cx="272.6" cy="179.0" rx="17.6" ry="9.6" fill="#1a1a1a" opacity="0.45" filter="url(#blur3)"/><ellipse cx="277.0" cy="189.0" rx="11.0" ry="7.0" fill="#222" opacity="0.25" filter="url(#blur3)"/><path d="M258.0,176.6 L259.0,174.7 L260.1,174.3 L261.1,174.1 L262.2,174.0 L263.2,173.8 L264.3,173.7 L265.3,173.5 L266.3,173.5 L267.4,173.5 L268.4,173.6 L269.5,173.7 L270.5,173.7 L271.6,173.7 L272.6,173.6 L273.6,173.5 L274.7,173.4 L275.7,173.3 L276.8,173.3 L277.8,173.2 L278.9,173.3 L279.9,173.3 L280.9,173.4 L282.0,173.5 L283.0,173.6 L284.1,173.9 L285.1,174.4 L286.2,175.3 L287.2,178.2 L287.2,178.2 L286.2,181.0 L285.1,181.9 L284.1,182.4 L283.0,182.6 L282.0,182.6 L280.9,182.5 L279.9,182.5 L278.9,182.5 L277.8,182.4 L276.8,182.4 L275.7,182.3 L274.7,182.2 L273.6,182.0 L272.6,181.8 L271.6,181.6 L270.5,181.5 L269.5,181.3 L268.4,181.2 L267.4,181.0 L266.3,180.8 L265.3,180.5 L264.3,180.2 L263.2,179.9 L262.2,179.5 L261.1,179.2 L260.1,179.0 L259.0,178.5 L258.0,176.6Z" fill="#222" opacity="0.5" stroke="#222" stroke-width="1.2" stroke-linejoin="round" filter="url(#blur2)"/><path d="M258.0,176.6 L259.0,174.7 L260.1,174.3 L261.1,174.1 L262.2,174.0 L263.2,173.8 L264.3,173.7 L265.3,173.5 L266.3,173.5 L267.4,173.5 L268.4,173.6 L269.5,173.7 L270.5,173.7 L271.6,173.7 L272.6,173.6 L273.6,173.5 L274.7,173.4 L275.7,173.3 L276.8,173.3 L277.8,173.2 L278.9,173.3 L279.9,173.3 L280.9,173.4 L282.0,173.5 L283.0,173.6 L284.1,173.9 L285.1,174.4 L286.2,175.3 L287.2,178.2 L287.2,178.2 L286.2,181.0 L285.1,181.9 L284.1,182.4 L283.0,182.6 L282.0,182.6 L280.9,182.5 L279.9,182.5 L278.9,182.5 L277.8,182.4 L276.8,182.4 L275.7,182.3 L274.7,182.2 L273.6,182.0 L272.6,181.8 L271.6,181.6 L270.5,181.5 L269.5,181.3 L268.4,181.2 L267.4,181.0 L266.3,180.8 L265.3,180.5 L264.3,180.2 L263.2,179.9 L262.2,179.5 L261.1,179.2 L260.1,179.0 L259.0,178.5 L258.0,176.6Z" fill="#040404" opacity="1" filter="url(#blur1)"/>
</g>
<rect x="91.7" y="162.4" width="204.9" height="41.9" fill="none" stroke="#222" stroke-width="1"/>
<g clip-path="url(#cb5)">
<rect x="91" y="214.3" width="205.4" height="33.4" fill="url(#b5)"/>
<rect x="91" y="214.3" width="205.4" height="33.4" filter="url(#grain)" opacity="0.3"/>
<rect x="90" y="212" width="210" height="7" fill="#a4a4a4" opacity="0.5" filter="url(#blur2)"/><rect x="90" y="242" width="210" height="7" fill="#d4d4d4" opacity="0.6" filter="url(#blur2)"/>
<ellipse cx="121.6" cy="234.4" rx="22.7" ry="8.4" fill="#1a1a1a" opacity="0.36" filter="url(#blur3)"/><path d="M101.9,233.0 L103.3,231.3 L104.7,230.9 L106.1,230.5 L107.5,230.1 L108.9,230.0 L110.3,230.0 L111.8,229.9 L113.2,229.9 L114.6,229.8 L116.0,229.7 L117.4,229.6 L118.8,229.5 L120.2,229.5 L121.6,229.5 L123.0,229.5 L124.4,229.5 L125.8,229.5 L127.2,229.6 L128.6,229.7 L130.0,229.7 L131.5,229.8 L132.9,229.8 L134.3,229.8 L135.7,230.0 L137.1,230.3 L138.5,230.7 L139.9,231.1 L141.3,232.8 L141.3,232.8 L139.9,234.5 L138.5,234.9 L137.1,235.3 L135.7,235.7 L134.3,235.8 L132.9,235.8 L131.5,235.9 L130.0,235.9 L128.6,236.0 L127.2,236.1 L125.8,236.2 L124.4,236.3 L123.0,236.3 L121.6,236.3 L120.2,236.3 L118.8,236.3 L117.4,236.3 L116.0,236.2 L114.6,236.1 L113.2,236.1 L111.8,236.0 L110.3,236.0 L108.9,236.0 L107.5,235.8 L106.1,235.5 L104.7,235.1 L103.3,234.7 L101.9,233.0Z" fill="#222" opacity="0.5" stroke="#222" stroke-width="1.2" stroke-linejoin="round" filter="url(#blur2)"/><path d="M101.9,233.0 L103.3,231.3 L104.7,230.9 L106.1,230.5 L107.5,230.1 L108.9,230.0 L110.3,230.0 L111.8,229.9 L113.2,229.9 L114.6,229.8 L116.0,229.7 L117.4,229.6 L118.8,229.5 L120.2,229.5 L121.6,229.5 L123.0,229.5 L124.4,229.5 L125.8,229.5 L127.2,229.6 L128.6,229.7 L130.0,229.7 L131.5,229.8 L132.9,229.8 L134.3,229.8 L135.7,230.0 L137.1,230.3 L138.5,230.7 L139.9,231.1 L141.3,232.8 L141.3,232.8 L139.9,234.5 L138.5,234.9 L137.1,235.3 L135.7,235.7 L134.3,235.8 L132.9,235.8 L131.5,235.9 L130.0,235.9 L128.6,236.0 L127.2,236.1 L125.8,236.2 L124.4,236.3 L123.0,236.3 L121.6,236.3 L120.2,236.3 L118.8,236.3 L117.4,236.3 L116.0,236.2 L114.6,236.1 L113.2,236.1 L111.8,236.0 L110.3,236.0 L108.9,236.0 L107.5,235.8 L106.1,235.5 L104.7,235.1 L103.3,234.7 L101.9,233.0Z" fill="#040404" opacity="1" filter="url(#blur1)"/><ellipse cx="168.8" cy="233.7" rx="22.8" ry="8.3" fill="#1a1a1a" opacity="0.34" filter="url(#blur3)"/><path d="M149.0,232.2 L150.4,230.6 L151.8,230.2 L153.2,229.8 L154.7,229.4 L156.1,229.3 L157.5,229.3 L158.9,229.3 L160.3,229.2 L161.7,229.1 L163.1,229.1 L164.6,229.0 L166.0,228.9 L167.4,228.9 L168.8,228.9 L170.2,228.9 L171.6,228.9 L173.0,229.0 L174.5,229.1 L175.9,229.1 L177.3,229.2 L178.7,229.3 L180.1,229.3 L181.5,229.3 L182.9,229.4 L184.4,229.8 L185.8,230.2 L187.2,230.6 L188.6,232.2 L188.6,232.2 L187.2,233.8 L185.8,234.2 L184.4,234.6 L182.9,235.0 L181.5,235.1 L180.1,235.1 L178.7,235.1 L177.3,235.2 L175.9,235.3 L174.5,235.3 L173.0,235.4 L171.6,235.5 L170.2,235.5 L168.8,235.5 L167.4,235.5 L166.0,235.5 L164.6,235.4 L163.1,235.3 L161.7,235.3 L160.3,235.2 L158.9,235.1 L157.5,235.1 L156.1,235.1 L154.7,235.0 L153.2,234.6 L151.8,234.2 L150.4,233.8 L149.0,232.2Z" fill="#222" opacity="0.5" stroke="#222" stroke-width="1.2" stroke-linejoin="round" filter="url(#blur2)"/><path d="M149.0,232.2 L150.4,230.6 L151.8,230.2 L153.2,229.8 L154.7,229.4 L156.1,229.3 L157.5,229.3 L158.9,229.3 L160.3,229.2 L161.7,229.1 L163.1,229.1 L164.6,229.0 L166.0,228.9 L167.4,228.9 L168.8,228.9 L170.2,228.9 L171.6,228.9 L173.0,229.0 L174.5,229.1 L175.9,229.1 L177.3,229.2 L178.7,229.3 L180.1,229.3 L181.5,229.3 L182.9,229.4 L184.4,229.8 L185.8,230.2 L187.2,230.6 L188.6,232.2 L188.6,232.2 L187.2,233.8 L185.8,234.2 L184.4,234.6 L182.9,235.0 L181.5,235.1 L180.1,235.1 L178.7,235.1 L177.3,235.2 L175.9,235.3 L174.5,235.3 L173.0,235.4 L171.6,235.5 L170.2,235.5 L168.8,235.5 L167.4,235.5 L166.0,235.5 L164.6,235.4 L163.1,235.3 L161.7,235.3 L160.3,235.2 L158.9,235.1 L157.5,235.1 L156.1,235.1 L154.7,235.0 L153.2,234.6 L151.8,234.2 L150.4,233.8 L149.0,232.2Z" fill="#040404" opacity="1" filter="url(#blur1)"/><ellipse cx="216.5" cy="234.1" rx="23.1" ry="8.4" fill="#1a1a1a" opacity="0.34" filter="url(#blur3)"/><path d="M196.4,232.6 L197.8,230.9 L199.3,230.5 L200.7,230.1 L202.1,229.7 L203.6,229.6 L205.0,229.6 L206.4,229.5 L207.9,229.5 L209.3,229.4 L210.8,229.3 L212.2,229.3 L213.6,229.2 L215.1,229.2 L216.5,229.2 L217.9,229.2 L219.4,229.2 L220.8,229.3 L222.2,229.3 L223.7,229.4 L225.1,229.5 L226.6,229.5 L228.0,229.6 L229.4,229.6 L230.9,229.7 L232.3,230.1 L233.7,230.5 L235.2,230.9 L236.6,232.6 L236.6,232.6 L235.2,234.3 L233.7,234.7 L232.3,235.1 L230.9,235.5 L229.4,235.6 L228.0,235.6 L226.6,235.7 L225.1,235.7 L223.7,235.8 L222.2,235.9 L220.8,235.9 L219.4,236.0 L217.9,236.0 L216.5,236.0 L215.1,236.0 L213.6,236.0 L212.2,235.9 L210.8,235.9 L209.3,235.8 L207.9,235.7 L206.4,235.7 L205.0,235.6 L203.6,235.6 L202.1,235.5 L200.7,235.1 L199.3,234.7 L197.8,234.3 L196.4,232.6Z" fill="#222" opacity="0.5" stroke="#222" stroke-width="1.2" stroke-linejoin="round" filter="url(#blur2)"/><path d="M196.4,232.6 L197.8,230.9 L199.3,230.5 L200.7,230.1 L202.1,229.7 L203.6,229.6 L205.0,229.6 L206.4,229.5 L207.9,229.5 L209.3,229.4 L210.8,229.3 L212.2,229.3 L213.6,229.2 L215.1,229.2 L216.5,229.2 L217.9,229.2 L219.4,229.2 L220.8,229.3 L222.2,229.3 L223.7,229.4 L225.1,229.5 L226.6,229.5 L228.0,229.6 L229.4,229.6 L230.9,229.7 L232.3,230.1 L233.7,230.5 L235.2,230.9 L236.6,232.6 L236.6,232.6 L235.2,234.3 L233.7,234.7 L232.3,235.1 L230.9,235.5 L229.4,235.6 L228.0,235.6 L226.6,235.7 L225.1,235.7 L223.7,235.8 L222.2,235.9 L220.8,235.9 L219.4,236.0 L217.9,236.0 L216.5,236.0 L215.1,236.0 L213.6,236.0 L212.2,235.9 L210.8,235.9 L209.3,235.8 L207.9,235.7 L206.4,235.7 L205.0,235.6 L203.6,235.6 L202.1,235.5 L200.7,235.1 L199.3,234.7 L197.8,234.3 L196.4,232.6Z" fill="#040404" opacity="1" filter="url(#blur1)"/><ellipse cx="265.0" cy="234.1" rx="22.7" ry="8.4" fill="#1a1a1a" opacity="0.34" filter="url(#blur3)"/><path d="M245.3,232.4 L246.7,230.7 L248.1,230.3 L249.5,229.9 L250.9,229.6 L252.3,229.4 L253.7,229.4 L255.1,229.4 L256.5,229.4 L257.9,229.3 L259.3,229.3 L260.7,229.2 L262.1,229.2 L263.5,229.1 L265.0,229.2 L266.4,229.2 L267.8,229.2 L269.2,229.3 L270.6,229.4 L272.0,229.5 L273.4,229.6 L274.8,229.7 L276.2,229.7 L277.6,229.8 L279.0,229.9 L280.4,230.3 L281.8,230.7 L283.2,231.1 L284.6,232.8 L284.6,232.8 L283.2,234.5 L281.8,234.9 L280.4,235.3 L279.0,235.6 L277.6,235.8 L276.2,235.8 L274.8,235.8 L273.4,235.8 L272.0,235.9 L270.6,235.9 L269.2,236.0 L267.8,236.0 L266.4,236.1 L265.0,236.0 L263.5,236.0 L262.1,236.0 L260.7,235.9 L259.3,235.8 L257.9,235.7 L256.5,235.6 L255.1,235.5 L253.7,235.5 L252.3,235.4 L250.9,235.3 L249.5,234.9 L248.1,234.5 L246.7,234.1 L245.3,232.4Z" fill="#222" opacity="0.5" stroke="#222" stroke-width="1.2" stroke-linejoin="round" filter="url(#blur2)"/><path d="M245.3,232.4 L246.7,230.7 L248.1,230.3 L249.5,229.9 L250.9,229.6 L252.3,229.4 L253.7,229.4 L255.1,229.4 L256.5,229.4 L257.9,229.3 L259.3,229.3 L260.7,229.2 L262.1,229.2 L263.5,229.1 L265.0,229.2 L266.4,229.2 L267.8,229.2 L269.2,229.3 L270.6,229.4 L272.0,229.5 L273.4,229.6 L274.8,229.7 L276.2,229.7 L277.6,229.8 L279.0,229.9 L280.4,230.3 L281.8,230.7 L283.2,231.1 L284.6,232.8 L284.6,232.8 L283.2,234.5 L281.8,234.9 L280.4,235.3 L279.0,235.6 L277.6,235.8 L276.2,235.8 L274.8,235.8 L273.4,235.8 L272.0,235.9 L270.6,235.9 L269.2,236.0 L267.8,236.0 L266.4,236.1 L265.0,236.0 L263.5,236.0 L262.1,236.0 L260.7,235.9 L259.3,235.8 L257.9,235.7 L256.5,235.6 L255.1,235.5 L253.7,235.5 L252.3,235.4 L250.9,235.3 L249.5,234.9 L248.1,234.5 L246.7,234.1 L245.3,232.4Z" fill="#040404" opacity="1" filter="url(#blur1)"/>
</g>
<rect x="91" y="214.3" width="205.4" height="33.4" fill="none" stroke="#222" stroke-width="1"/>
<text x="84.2" y="44.0" font-size="12.6" font-weight="bold" text-anchor="end" fill="#000" >aggrecan</text>
<text x="84.0" y="94.0" font-size="12.6" font-weight="bold" text-anchor="end" fill="#000" >Collagen II</text>
<text x="83.5" y="144.3" font-size="12.6" font-weight="bold" text-anchor="end" fill="#000" >ADAMTS5</text>
<text x="84.3" y="193.3" font-size="12.6" font-weight="bold" text-anchor="end" fill="#000" >MMP13</text>
<text x="85.0" y="241.3" font-size="12.6" font-weight="bold" text-anchor="end" fill="#000" >GAPDH</text>
<text x="295.4" y="42.3" font-size="8.8" font-weight="bold" text-anchor="start" fill="#000" >-250kDa</text>
<text x="298.6" y="87.5" font-size="8.8" font-weight="bold" text-anchor="start" fill="#000" >-150kDa</text>
<text x="297.7" y="135.8" font-size="8.8" font-weight="bold" text-anchor="start" fill="#000" >-74kDa</text>
<text x="297.7" y="184.8" font-size="8.8" font-weight="bold" text-anchor="start" fill="#000" >-54kDa</text>
<text x="297.7" y="236.3" font-size="8.8" font-weight="bold" text-anchor="start" fill="#000" >-37kDa</text>
<text x="83.8" y="270.6" font-size="12.6" font-weight="bold" text-anchor="end" fill="#000" >TBHP(40µM)</text>
<text x="86.3" y="289.3" font-size="12.6" font-weight="bold" text-anchor="end" fill="#000" >FGF21(ng/ml)</text>
<line x1="117.60" y1="264.80" x2="122.40" y2="264.80" stroke="#000" stroke-width="1.8"/>
<line x1="164.60" y1="264.60" x2="171.40" y2="264.60" stroke="#000" stroke-width="1.7"/>
<line x1="168.00" y1="261.20" x2="168.00" y2="268.00" stroke="#000" stroke-width="1.7"/>
<line x1="211.80" y1="264.80" x2="218.60" y2="264.80" stroke="#000" stroke-width="1.7"/>
<line x1="215.20" y1="261.40" x2="215.20" y2="268.20" stroke="#000" stroke-width="1.7"/>
<line x1="259.10" y1="266.00" x2="265.90" y2="266.00" stroke="#000" stroke-width="1.7"/>
<line x1="262.50" y1="262.60" x2="262.50" y2="269.40" stroke="#000" stroke-width="1.7"/>
<line x1="117.60" y1="280.00" x2="122.40" y2="280.00" stroke="#000" stroke-width="1.8"/>
<line x1="165.00" y1="280.00" x2="169.80" y2="280.00" stroke="#000" stroke-width="1.8"/>
<text x="215.0" y="285.4" font-size="14" font-weight="bold" text-anchor="middle" fill="#000" >100</text>
<text x="262.4" y="286.4" font-size="14" font-weight="bold" text-anchor="middle" fill="#000" >200</text>
<rect x="404.00" y="34.30" width="19.50" height="5.20" fill="#BF40E6" stroke="#000" stroke-width="0.9" rx="1"/>
<text x="434.6" y="40.4" font-size="11.0" font-weight="normal" text-anchor="start" fill="#BF40E6" >Control</text>
<rect x="404.00" y="58.80" width="19.50" height="5.20" fill="#FF4040" stroke="#000" stroke-width="0.9" rx="1"/>
<text x="434.6" y="65.0" font-size="11.0" font-weight="normal" text-anchor="start" fill="#FF4040" >TBHP</text>
<rect x="502.00" y="34.30" width="19.50" height="5.20" fill="#40FF40" stroke="#000" stroke-width="0.9" rx="1"/>
<text x="533.0" y="40.4" font-size="11.2" font-weight="normal" text-anchor="start" fill="#40FF40" >TBHP+FGF21(100ng/ml)</text>
<rect x="502.00" y="58.80" width="19.50" height="5.20" fill="#40FFFF" stroke="#000" stroke-width="0.9" rx="1"/>
<text x="534.0" y="65.0" font-size="11.2" font-weight="normal" text-anchor="start" fill="#40FFFF" >TBHP+FGF21(200ng/ml)</text>
<text transform="translate(341.3,140.0) rotate(-90)" font-size="11.2" font-weight="bold" text-anchor="middle" fill="#000">The level of</text>
<text transform="translate(355.2,134.0) rotate(-90)" font-size="11.2" font-weight="bold" text-anchor="middle" fill="#000">protein expression</text>
<line x1="403.40" y1="118.13" x2="403.40" y2="116.60" stroke="#000" stroke-width="0.9"/>
<line x1="400.80" y1="116.60" x2="406.00" y2="116.60" stroke="#000" stroke-width="0.9"/>
<rect x="398.50" y="118.13" width="9.80" height="114.87" fill="#BF40E6" stroke="#222" stroke-width="0.9" />
<line x1="418.40" y1="191.53" x2="418.40" y2="186.20" stroke="#000" stroke-width="0.9"/>
<line x1="415.80" y1="186.20" x2="421.00" y2="186.20" stroke="#000" stroke-width="0.9"/>
<rect x="413.50" y="191.53" width="9.80" height="41.47" fill="#FF4040" stroke="#222" stroke-width="0.9" />
<line x1="433.40" y1="172.08" x2="433.40" y2="166.80" stroke="#000" stroke-width="0.9"/>
<line x1="430.80" y1="166.80" x2="436.00" y2="166.80" stroke="#000" stroke-width="0.9"/>
<rect x="428.50" y="172.08" width="9.80" height="60.92" fill="#40FF40" stroke="#222" stroke-width="0.9" />
<line x1="448.40" y1="134.20" x2="448.40" y2="130.40" stroke="#000" stroke-width="0.9"/>
<line x1="445.80" y1="130.40" x2="451.00" y2="130.40" stroke="#000" stroke-width="0.9"/>
<rect x="443.50" y="134.20" width="9.80" height="98.80" fill="#40FFFF" stroke="#222" stroke-width="0.9" />
<line x1="473.50" y1="90.60" x2="473.50" y2="86.70" stroke="#000" stroke-width="0.9"/>
<line x1="470.90" y1="86.70" x2="476.10" y2="86.70" stroke="#000" stroke-width="0.9"/>
<rect x="468.60" y="90.60" width="9.80" height="142.40" fill="#BF40E6" stroke="#222" stroke-width="0.9" />
<line x1="488.50" y1="195.27" x2="488.50" y2="189.40" stroke="#000" stroke-width="0.9"/>
<line x1="485.90" y1="189.40" x2="491.10" y2="189.40" stroke="#000" stroke-width="0.9"/>
<rect x="483.60" y="195.27" width="9.80" height="37.73" fill="#FF4040" stroke="#222" stroke-width="0.9" />
<line x1="503.50" y1="163.42" x2="503.50" y2="160.30" stroke="#000" stroke-width="0.9"/>
<line x1="500.90" y1="160.30" x2="506.10" y2="160.30" stroke="#000" stroke-width="0.9"/>
<rect x="498.60" y="163.42" width="9.80" height="69.58" fill="#40FF40" stroke="#222" stroke-width="0.9" />
<line x1="518.50" y1="117.03" x2="518.50" y2="111.40" stroke="#000" stroke-width="0.9"/>
<line x1="515.90" y1="111.40" x2="521.10" y2="111.40" stroke="#000" stroke-width="0.9"/>
<rect x="513.60" y="117.03" width="9.80" height="115.97" fill="#40FFFF" stroke="#222" stroke-width="0.9" />
<line x1="542.90" y1="188.45" x2="542.90" y2="185.10" stroke="#000" stroke-width="0.9"/>
<line x1="540.30" y1="185.10" x2="545.50" y2="185.10" stroke="#000" stroke-width="0.9"/>
<rect x="538.00" y="188.45" width="9.80" height="44.55" fill="#BF40E6" stroke="#222" stroke-width="0.9" />
<line x1="557.90" y1="123.05" x2="557.90" y2="119.40" stroke="#000" stroke-width="0.9"/>
<line x1="555.30" y1="119.40" x2="560.50" y2="119.40" stroke="#000" stroke-width="0.9"/>
<rect x="553.00" y="123.05" width="9.80" height="109.95" fill="#FF4040" stroke="#222" stroke-width="0.9" />
<line x1="572.90" y1="140.22" x2="572.90" y2="136.60" stroke="#000" stroke-width="0.9"/>
<line x1="570.30" y1="136.60" x2="575.50" y2="136.60" stroke="#000" stroke-width="0.9"/>
<rect x="568.00" y="140.22" width="9.80" height="92.78" fill="#40FF40" stroke="#222" stroke-width="0.9" />
<line x1="587.90" y1="170.76" x2="587.90" y2="161.10" stroke="#000" stroke-width="0.9"/>
<line x1="585.30" y1="161.10" x2="590.50" y2="161.10" stroke="#000" stroke-width="0.9"/>
<rect x="583.00" y="170.76" width="9.80" height="62.24" fill="#40FFFF" stroke="#222" stroke-width="0.9" />
<line x1="612.50" y1="187.20" x2="612.50" y2="185.90" stroke="#000" stroke-width="0.9"/>
<line x1="609.90" y1="185.90" x2="615.10" y2="185.90" stroke="#000" stroke-width="0.9"/>
<rect x="607.60" y="187.20" width="9.80" height="45.80" fill="#BF40E6" stroke="#222" stroke-width="0.9" />
<line x1="627.50" y1="119.52" x2="627.50" y2="115.90" stroke="#000" stroke-width="0.9"/>
<line x1="624.90" y1="115.90" x2="630.10" y2="115.90" stroke="#000" stroke-width="0.9"/>
<rect x="622.60" y="119.52" width="9.80" height="113.48" fill="#FF4040" stroke="#222" stroke-width="0.9" />
<line x1="642.50" y1="145.29" x2="642.50" y2="141.70" stroke="#000" stroke-width="0.9"/>
<line x1="639.90" y1="141.70" x2="645.10" y2="141.70" stroke="#000" stroke-width="0.9"/>
<rect x="637.60" y="145.29" width="9.80" height="87.71" fill="#40FF40" stroke="#222" stroke-width="0.9" />
<line x1="657.50" y1="174.28" x2="657.50" y2="171.20" stroke="#000" stroke-width="0.9"/>
<line x1="654.90" y1="171.20" x2="660.10" y2="171.20" stroke="#000" stroke-width="0.9"/>
<rect x="652.60" y="174.28" width="9.80" height="58.72" fill="#40FFFF" stroke="#222" stroke-width="0.9" />
<line x1="393.40" y1="49.20" x2="393.40" y2="233.70" stroke="#000" stroke-width="1.5"/>
<line x1="386.00" y1="233.00" x2="669.00" y2="233.00" stroke="#000" stroke-width="1.5"/>
<line x1="386.00" y1="233.00" x2="393.40" y2="233.00" stroke="#000" stroke-width="1.5"/>
<text x="384.2" y="238.0" font-size="11.3" font-weight="bold" text-anchor="end" fill="#000" >0.0</text>
<line x1="386.00" y1="196.30" x2="393.40" y2="196.30" stroke="#000" stroke-width="1.5"/>
<text x="384.2" y="201.3" font-size="11.3" font-weight="bold" text-anchor="end" fill="#000" >0.5</text>
<line x1="386.00" y1="159.60" x2="393.40" y2="159.60" stroke="#000" stroke-width="1.5"/>
<text x="384.2" y="164.6" font-size="11.3" font-weight="bold" text-anchor="end" fill="#000" >1.0</text>
<line x1="386.00" y1="122.90" x2="393.40" y2="122.90" stroke="#000" stroke-width="1.5"/>
<text x="384.2" y="127.9" font-size="11.3" font-weight="bold" text-anchor="end" fill="#000" >1.5</text>
<line x1="386.00" y1="86.20" x2="393.40" y2="86.20" stroke="#000" stroke-width="1.5"/>
<text x="384.2" y="91.2" font-size="11.3" font-weight="bold" text-anchor="end" fill="#000" >2.0</text>
<line x1="386.00" y1="49.50" x2="393.40" y2="49.50" stroke="#000" stroke-width="1.5"/>
<text x="384.2" y="54.5" font-size="11.3" font-weight="bold" text-anchor="end" fill="#000" >2.5</text>
<line x1="425.70" y1="233.00" x2="425.70" y2="240.20" stroke="#000" stroke-width="1.5"/>
<text x="425.7" y="259.3" font-size="11.3" font-weight="bold" text-anchor="middle" fill="#000" >Aggrecan</text>
<line x1="495.50" y1="233.00" x2="495.50" y2="240.20" stroke="#000" stroke-width="1.5"/>
<text x="495.5" y="259.3" font-size="11.3" font-weight="bold" text-anchor="middle" fill="#000" >Collagen II</text>
<line x1="565.00" y1="233.00" x2="565.00" y2="240.20" stroke="#000" stroke-width="1.5"/>
<text x="565.0" y="259.3" font-size="11.3" font-weight="bold" text-anchor="middle" fill="#000" >ADAMTS5</text>
<line x1="635.00" y1="233.00" x2="635.00" y2="240.20" stroke="#000" stroke-width="1.5"/>
<text x="635.0" y="259.3" font-size="11.3" font-weight="bold" text-anchor="middle" fill="#000" >MMP13</text>
<polyline points="417.30,186.20 417.30,110.10 447.70,110.10 447.70,130.30" fill="none" stroke="#000" stroke-width="0.9"/>
<text x="430.2" y="109.0" font-size="10" font-weight="bold" text-anchor="middle" fill="#111">**</text>
<text x="422.1" y="119.1" font-size="6.3" font-weight="bold" text-anchor="start" fill="#111">P&lt;0.01</text>
<text x="418.9" y="140.7" font-size="6.3" font-weight="bold" text-anchor="start" fill="#111">P=0.03</text>
<text x="425.0" y="149.6" font-size="10" font-weight="bold" text-anchor="middle" fill="#111">*</text>
<polyline points="417.30,186.20 417.30,151.40 432.40,151.40 432.40,166.50" fill="none" stroke="#000" stroke-width="0.9"/>
<polyline points="487.20,189.40 487.20,89.20 518.00,89.20 518.00,111.60" fill="none" stroke="#000" stroke-width="0.9"/>
<text x="499.6" y="89.0" font-size="10" font-weight="bold" text-anchor="middle" fill="#111">**</text>
<text x="492.7" y="98.1" font-size="6.3" font-weight="bold" text-anchor="start" fill="#111">P&lt;0.01</text>
<text x="489.0" y="116.1" font-size="6.3" font-weight="bold" text-anchor="start" fill="#111">P&lt;0.01</text>
<text x="495.1" y="123.7" font-size="10" font-weight="bold" text-anchor="middle" fill="#111">**</text>
<polyline points="486.90,189.40 486.90,124.60 502.50,124.60 502.50,160.40" fill="none" stroke="#000" stroke-width="0.9"/>
<text x="565.0" y="81.4" font-size="6.3" font-weight="bold" text-anchor="start" fill="#111">P&lt;0.01</text>
<text x="568.8" y="89.3" font-size="10" font-weight="bold" text-anchor="middle" fill="#111">**</text>
<polyline points="557.60,119.20 557.60,89.20 587.40,89.20 587.40,161.00" fill="none" stroke="#000" stroke-width="0.9"/>
<text x="559.4" y="99.2" font-size="11.2" font-weight="normal" text-anchor="start" fill="#111">ns</text>
<polyline points="557.60,119.20 557.60,101.30 572.40,101.30 572.40,136.40" fill="none" stroke="#000" stroke-width="0.9"/>
<text x="559.6" y="108.0" font-size="6.3" font-weight="bold" text-anchor="start" fill="#111">P=0.06</text>
<text x="640.0" y="86.0" font-size="10" font-weight="bold" text-anchor="middle" fill="#111">**</text>
<polyline points="627.30,115.80 627.30,86.50 657.50,86.50 657.50,170.90" fill="none" stroke="#000" stroke-width="0.9"/>
<text x="631.0" y="93.7" font-size="6.3" font-weight="bold" text-anchor="start" fill="#111">P&lt;0.01</text>
<text x="634.6" y="106.8" font-size="8.5" font-weight="bold" text-anchor="middle" fill="#111">*</text>
<text x="636.6" y="104.3" font-size="6.3" font-weight="bold" text-anchor="start" fill="#111">P=0.04</text>
<polyline points="627.30,115.80 627.30,106.90 642.50,106.90 642.50,141.40" fill="none" stroke="#000" stroke-width="0.9"/>
<text x="103.5" y="347.2" font-size="13.2" font-weight="bold" text-anchor="middle" fill="#000" >Aggrecan</text>
<text transform="translate(17.9,416.2) rotate(-90)" font-size="13.0" font-weight="bold" text-anchor="middle" fill="#000">Relative mRNA level</text>
<rect x="49.00" y="358.60" width="16.80" height="113.20" fill="#BF40E6" stroke="#111" stroke-width="1.0" />
<line x1="83.80" y1="435.24" x2="83.80" y2="432.50" stroke="#000" stroke-width="0.9"/>
<line x1="79.40" y1="432.50" x2="88.20" y2="432.50" stroke="#000" stroke-width="0.9"/>
<rect x="75.40" y="435.24" width="16.80" height="36.56" fill="#FF4040" stroke="#111" stroke-width="1.0" />
<line x1="110.20" y1="413.16" x2="110.20" y2="408.60" stroke="#000" stroke-width="0.9"/>
<line x1="105.80" y1="408.60" x2="114.60" y2="408.60" stroke="#000" stroke-width="0.9"/>
<rect x="101.80" y="413.16" width="16.80" height="58.64" fill="#40FF40" stroke="#111" stroke-width="1.0" />
<line x1="136.60" y1="387.24" x2="136.60" y2="383.50" stroke="#000" stroke-width="0.9"/>
<line x1="132.20" y1="383.50" x2="141.00" y2="383.50" stroke="#000" stroke-width="0.9"/>
<rect x="128.20" y="387.24" width="16.80" height="84.56" fill="#40FFFF" stroke="#111" stroke-width="1.0" />
<line x1="40.20" y1="358.10" x2="40.20" y2="472.30" stroke="#000" stroke-width="1.0"/>
<line x1="37.90" y1="471.80" x2="154.50" y2="471.80" stroke="#000" stroke-width="1.2"/>
<line x1="35.00" y1="471.80" x2="40.20" y2="471.80" stroke="#000" stroke-width="1.0"/>
<text x="33.3" y="475.1" font-size="8.4" font-weight="bold" text-anchor="end" fill="#000" >0.0</text>
<line x1="35.00" y1="415.20" x2="40.20" y2="415.20" stroke="#000" stroke-width="1.0"/>
<text x="33.3" y="418.5" font-size="8.4" font-weight="bold" text-anchor="end" fill="#000" >0.5</text>
<line x1="35.00" y1="358.60" x2="40.20" y2="358.60" stroke="#000" stroke-width="1.0"/>
<text x="33.3" y="361.9" font-size="8.4" font-weight="bold" text-anchor="end" fill="#000" >1.0</text>
<line x1="37.50" y1="452.93" x2="40.20" y2="452.93" stroke="#000" stroke-width="1.0"/>
<line x1="37.50" y1="434.07" x2="40.20" y2="434.07" stroke="#000" stroke-width="1.0"/>
<line x1="37.50" y1="396.33" x2="40.20" y2="396.33" stroke="#000" stroke-width="1.0"/>
<line x1="37.50" y1="377.47" x2="40.20" y2="377.47" stroke="#000" stroke-width="1.0"/>
<line x1="57.40" y1="471.80" x2="57.40" y2="476.60" stroke="#000" stroke-width="1.0"/>
<line x1="83.80" y1="471.80" x2="83.80" y2="476.60" stroke="#000" stroke-width="1.0"/>
<line x1="110.20" y1="471.80" x2="110.20" y2="476.60" stroke="#000" stroke-width="1.0"/>
<line x1="136.60" y1="471.80" x2="136.60" y2="476.60" stroke="#000" stroke-width="1.0"/>
<text x="273.0" y="348.3" font-size="12.7" font-weight="bold" text-anchor="middle" fill="#000" >Collagen II</text>
<text transform="translate(197.0,416.2) rotate(-90)" font-size="13.0" font-weight="bold" text-anchor="middle" fill="#000">Relative mRNA level</text>
<rect x="227.90" y="357.60" width="16.90" height="115.90" fill="#BF40E6" stroke="#111" stroke-width="1.0" />
<line x1="263.35" y1="452.17" x2="263.35" y2="449.60" stroke="#000" stroke-width="0.9"/>
<line x1="258.95" y1="449.60" x2="267.75" y2="449.60" stroke="#000" stroke-width="0.9"/>
<rect x="254.90" y="452.17" width="16.90" height="21.33" fill="#FF4040" stroke="#111" stroke-width="1.0" />
<line x1="290.25" y1="414.28" x2="290.25" y2="410.70" stroke="#000" stroke-width="0.9"/>
<line x1="285.85" y1="410.70" x2="294.65" y2="410.70" stroke="#000" stroke-width="0.9"/>
<rect x="281.80" y="414.28" width="16.90" height="59.22" fill="#40FF40" stroke="#111" stroke-width="1.0" />
<line x1="317.35" y1="389.94" x2="317.35" y2="387.50" stroke="#000" stroke-width="0.9"/>
<line x1="312.95" y1="387.50" x2="321.75" y2="387.50" stroke="#000" stroke-width="0.9"/>
<rect x="308.90" y="389.94" width="16.90" height="83.56" fill="#40FFFF" stroke="#111" stroke-width="1.0" />
<line x1="219.00" y1="357.10" x2="219.00" y2="474.00" stroke="#000" stroke-width="1.0"/>
<line x1="216.70" y1="473.50" x2="335.80" y2="473.50" stroke="#000" stroke-width="1.2"/>
<line x1="213.80" y1="473.50" x2="219.00" y2="473.50" stroke="#000" stroke-width="1.0"/>
<text x="212.1" y="476.8" font-size="8.4" font-weight="bold" text-anchor="end" fill="#000" >0.0</text>
<line x1="213.80" y1="415.55" x2="219.00" y2="415.55" stroke="#000" stroke-width="1.0"/>
<text x="212.1" y="418.9" font-size="8.4" font-weight="bold" text-anchor="end" fill="#000" >0.5</text>
<line x1="213.80" y1="357.60" x2="219.00" y2="357.60" stroke="#000" stroke-width="1.0"/>
<text x="212.1" y="360.9" font-size="8.4" font-weight="bold" text-anchor="end" fill="#000" >1.0</text>
<line x1="216.30" y1="454.18" x2="219.00" y2="454.18" stroke="#000" stroke-width="1.0"/>
<line x1="216.30" y1="434.87" x2="219.00" y2="434.87" stroke="#000" stroke-width="1.0"/>
<line x1="216.30" y1="396.23" x2="219.00" y2="396.23" stroke="#000" stroke-width="1.0"/>
<line x1="216.30" y1="376.92" x2="219.00" y2="376.92" stroke="#000" stroke-width="1.0"/>
<line x1="236.35" y1="473.50" x2="236.35" y2="478.30" stroke="#000" stroke-width="1.0"/>
<line x1="263.35" y1="473.50" x2="263.35" y2="478.30" stroke="#000" stroke-width="1.0"/>
<line x1="290.25" y1="473.50" x2="290.25" y2="478.30" stroke="#000" stroke-width="1.0"/>
<line x1="317.35" y1="473.50" x2="317.35" y2="478.30" stroke="#000" stroke-width="1.0"/>
<text x="437.7" y="349.3" font-size="12.7" font-weight="bold" text-anchor="middle" fill="#000" >ADAMTS5</text>
<text transform="translate(373.7,416.2) rotate(-90)" font-size="13.0" font-weight="bold" text-anchor="middle" fill="#000">Relative mRNA level</text>
<rect x="404.10" y="435.22" width="16.70" height="36.78" fill="#BF40E6" stroke="#111" stroke-width="1.0" />
<line x1="438.75" y1="378.92" x2="438.75" y2="374.70" stroke="#000" stroke-width="0.9"/>
<line x1="434.35" y1="374.70" x2="443.15" y2="374.70" stroke="#000" stroke-width="0.9"/>
<rect x="430.40" y="378.92" width="16.70" height="93.08" fill="#FF4040" stroke="#111" stroke-width="1.0" />
<line x1="464.45" y1="395.81" x2="464.45" y2="390.60" stroke="#000" stroke-width="0.9"/>
<line x1="460.05" y1="390.60" x2="468.85" y2="390.60" stroke="#000" stroke-width="0.9"/>
<rect x="456.10" y="395.81" width="16.70" height="76.19" fill="#40FF40" stroke="#111" stroke-width="1.0" />
<line x1="490.55" y1="420.20" x2="490.55" y2="416.20" stroke="#000" stroke-width="0.9"/>
<line x1="486.15" y1="416.20" x2="494.95" y2="416.20" stroke="#000" stroke-width="0.9"/>
<rect x="482.20" y="420.20" width="16.70" height="51.80" fill="#40FFFF" stroke="#111" stroke-width="1.0" />
<line x1="394.80" y1="358.90" x2="394.80" y2="472.50" stroke="#000" stroke-width="1.0"/>
<line x1="392.50" y1="472.00" x2="507.80" y2="472.00" stroke="#000" stroke-width="1.2"/>
<line x1="389.60" y1="472.00" x2="394.80" y2="472.00" stroke="#000" stroke-width="1.0"/>
<text x="387.9" y="475.3" font-size="8.4" font-weight="bold" text-anchor="end" fill="#000" >0</text>
<line x1="389.60" y1="434.47" x2="394.80" y2="434.47" stroke="#000" stroke-width="1.0"/>
<text x="387.9" y="437.8" font-size="8.4" font-weight="bold" text-anchor="end" fill="#000" >1</text>
<line x1="389.60" y1="396.93" x2="394.80" y2="396.93" stroke="#000" stroke-width="1.0"/>
<text x="387.9" y="400.2" font-size="8.4" font-weight="bold" text-anchor="end" fill="#000" >2</text>
<line x1="389.60" y1="359.40" x2="394.80" y2="359.40" stroke="#000" stroke-width="1.0"/>
<text x="387.9" y="362.7" font-size="8.4" font-weight="bold" text-anchor="end" fill="#000" >3</text>
<line x1="412.45" y1="472.00" x2="412.45" y2="476.80" stroke="#000" stroke-width="1.0"/>
<line x1="438.75" y1="472.00" x2="438.75" y2="476.80" stroke="#000" stroke-width="1.0"/>
<line x1="464.45" y1="472.00" x2="464.45" y2="476.80" stroke="#000" stroke-width="1.0"/>
<line x1="490.55" y1="472.00" x2="490.55" y2="476.80" stroke="#000" stroke-width="1.0"/>
<text x="623.7" y="349.4" font-size="12.7" font-weight="bold" text-anchor="middle" fill="#000" >MMP13</text>
<text transform="translate(553.5,416.2) rotate(-90)" font-size="13.0" font-weight="bold" text-anchor="middle" fill="#000">Relative mRNA level</text>
<rect x="580.80" y="451.23" width="16.70" height="21.77" fill="#BF40E6" stroke="#111" stroke-width="1.0" />
<line x1="615.55" y1="382.34" x2="615.55" y2="378.50" stroke="#000" stroke-width="0.9"/>
<line x1="611.15" y1="378.50" x2="619.95" y2="378.50" stroke="#000" stroke-width="0.9"/>
<rect x="607.20" y="382.34" width="16.70" height="90.66" fill="#FF4040" stroke="#111" stroke-width="1.0" />
<line x1="641.65" y1="399.40" x2="641.65" y2="396.40" stroke="#000" stroke-width="0.9"/>
<line x1="637.25" y1="396.40" x2="646.05" y2="396.40" stroke="#000" stroke-width="0.9"/>
<rect x="633.30" y="399.40" width="16.70" height="73.60" fill="#40FF40" stroke="#111" stroke-width="1.0" />
<line x1="667.65" y1="428.34" x2="667.65" y2="426.20" stroke="#000" stroke-width="0.9"/>
<line x1="663.25" y1="426.20" x2="672.05" y2="426.20" stroke="#000" stroke-width="0.9"/>
<rect x="659.30" y="428.34" width="16.70" height="44.66" fill="#40FFFF" stroke="#111" stroke-width="1.0" />
<line x1="571.80" y1="360.30" x2="571.80" y2="473.50" stroke="#000" stroke-width="1.0"/>
<line x1="569.50" y1="473.00" x2="686.00" y2="473.00" stroke="#000" stroke-width="1.2"/>
<line x1="566.60" y1="473.00" x2="571.80" y2="473.00" stroke="#000" stroke-width="1.0"/>
<text x="564.9" y="476.3" font-size="8.4" font-weight="bold" text-anchor="end" fill="#000" >0</text>
<line x1="566.60" y1="450.56" x2="571.80" y2="450.56" stroke="#000" stroke-width="1.0"/>
<text x="564.9" y="453.9" font-size="8.4" font-weight="bold" text-anchor="end" fill="#000" >1</text>
<line x1="566.60" y1="428.12" x2="571.80" y2="428.12" stroke="#000" stroke-width="1.0"/>
<text x="564.9" y="431.4" font-size="8.4" font-weight="bold" text-anchor="end" fill="#000" >2</text>
<line x1="566.60" y1="405.68" x2="571.80" y2="405.68" stroke="#000" stroke-width="1.0"/>
<text x="564.9" y="409.0" font-size="8.4" font-weight="bold" text-anchor="end" fill="#000" >3</text>
<line x1="566.60" y1="383.24" x2="571.80" y2="383.24" stroke="#000" stroke-width="1.0"/>
<text x="564.9" y="386.5" font-size="8.4" font-weight="bold" text-anchor="end" fill="#000" >4</text>
<line x1="566.60" y1="360.80" x2="571.80" y2="360.80" stroke="#000" stroke-width="1.0"/>
<text x="564.9" y="364.1" font-size="8.4" font-weight="bold" text-anchor="end" fill="#000" >5</text>
<line x1="589.15" y1="473.00" x2="589.15" y2="477.80" stroke="#000" stroke-width="1.0"/>
<line x1="615.55" y1="473.00" x2="615.55" y2="477.80" stroke="#000" stroke-width="1.0"/>
<line x1="641.65" y1="473.00" x2="641.65" y2="477.80" stroke="#000" stroke-width="1.0"/>
<line x1="667.65" y1="473.00" x2="667.65" y2="477.80" stroke="#000" stroke-width="1.0"/>
<text x="38.0" y="501.0" font-size="12.4" font-weight="bold" text-anchor="end" fill="#000" >TBHP</text>
<text x="38.0" y="527.5" font-size="12.4" font-weight="bold" text-anchor="end" fill="#000" >FGF21</text>
<text x="218.5" y="501.0" font-size="12.4" font-weight="bold" text-anchor="end" fill="#000" >TBHP</text>
<text x="218.9" y="527.5" font-size="12.4" font-weight="bold" text-anchor="end" fill="#000" >FGF21</text>
<text x="395.0" y="501.0" font-size="12.4" font-weight="bold" text-anchor="end" fill="#000" >TBHP</text>
<text x="395.0" y="527.5" font-size="12.4" font-weight="bold" text-anchor="end" fill="#000" >FGF21</text>
<text x="574.6" y="501.0" font-size="12.4" font-weight="bold" text-anchor="end" fill="#000" >TBHP</text>
<text x="575.4" y="527.5" font-size="12.4" font-weight="bold" text-anchor="end" fill="#000" >FGF21</text>
<line x1="54.00" y1="494.20" x2="58.30" y2="494.20" stroke="#000" stroke-width="1.8"/>
<line x1="76.50" y1="494.00" x2="83.30" y2="494.00" stroke="#000" stroke-width="1.7"/>
<line x1="79.90" y1="490.60" x2="79.90" y2="497.40" stroke="#000" stroke-width="1.7"/>
<line x1="103.90" y1="494.00" x2="110.70" y2="494.00" stroke="#000" stroke-width="1.7"/>
<line x1="107.30" y1="490.60" x2="107.30" y2="497.40" stroke="#000" stroke-width="1.7"/>
<line x1="131.50" y1="494.00" x2="138.30" y2="494.00" stroke="#000" stroke-width="1.7"/>
<line x1="134.90" y1="490.60" x2="134.90" y2="497.40" stroke="#000" stroke-width="1.7"/>
<line x1="51.00" y1="519.20" x2="55.30" y2="519.20" stroke="#000" stroke-width="1.8"/>
<line x1="78.40" y1="519.20" x2="82.90" y2="519.20" stroke="#000" stroke-width="1.8"/>
<text x="107.8" y="524.2" font-size="13.3" font-weight="bold" text-anchor="middle" fill="#000" >100</text>
<text x="135.0" y="524.2" font-size="13.3" font-weight="bold" text-anchor="middle" fill="#000" >200</text>
<line x1="233.60" y1="494.20" x2="237.80" y2="494.20" stroke="#000" stroke-width="1.8"/>
<line x1="257.00" y1="494.00" x2="263.80" y2="494.00" stroke="#000" stroke-width="1.7"/>
<line x1="260.40" y1="490.60" x2="260.40" y2="497.40" stroke="#000" stroke-width="1.7"/>
<line x1="284.20" y1="494.00" x2="291.00" y2="494.00" stroke="#000" stroke-width="1.7"/>
<line x1="287.60" y1="490.60" x2="287.60" y2="497.40" stroke="#000" stroke-width="1.7"/>
<line x1="312.30" y1="494.00" x2="319.10" y2="494.00" stroke="#000" stroke-width="1.7"/>
<line x1="315.70" y1="490.60" x2="315.70" y2="497.40" stroke="#000" stroke-width="1.7"/>
<line x1="231.50" y1="519.20" x2="235.60" y2="519.20" stroke="#000" stroke-width="1.8"/>
<line x1="258.70" y1="519.20" x2="263.00" y2="519.20" stroke="#000" stroke-width="1.8"/>
<text x="287.9" y="524.2" font-size="13.3" font-weight="bold" text-anchor="middle" fill="#000" >100</text>
<text x="315.5" y="524.2" font-size="13.3" font-weight="bold" text-anchor="middle" fill="#000" >200</text>
<line x1="410.90" y1="494.20" x2="414.90" y2="494.20" stroke="#000" stroke-width="1.8"/>
<line x1="434.60" y1="494.00" x2="441.40" y2="494.00" stroke="#000" stroke-width="1.7"/>
<line x1="438.00" y1="490.60" x2="438.00" y2="497.40" stroke="#000" stroke-width="1.7"/>
<line x1="461.50" y1="494.00" x2="468.30" y2="494.00" stroke="#000" stroke-width="1.7"/>
<line x1="464.90" y1="490.60" x2="464.90" y2="497.40" stroke="#000" stroke-width="1.7"/>
<line x1="489.10" y1="494.00" x2="495.90" y2="494.00" stroke="#000" stroke-width="1.7"/>
<line x1="492.50" y1="490.60" x2="492.50" y2="497.40" stroke="#000" stroke-width="1.7"/>
<line x1="408.60" y1="519.20" x2="412.90" y2="519.20" stroke="#000" stroke-width="1.8"/>
<line x1="436.20" y1="519.20" x2="440.50" y2="519.20" stroke="#000" stroke-width="1.8"/>
<text x="465.6" y="524.2" font-size="13.3" font-weight="bold" text-anchor="middle" fill="#000" >100</text>
<text x="493.0" y="524.2" font-size="13.3" font-weight="bold" text-anchor="middle" fill="#000" >200</text>
<line x1="590.80" y1="494.20" x2="594.80" y2="494.20" stroke="#000" stroke-width="1.8"/>
<line x1="614.20" y1="494.00" x2="621.00" y2="494.00" stroke="#000" stroke-width="1.7"/>
<line x1="617.60" y1="490.60" x2="617.60" y2="497.40" stroke="#000" stroke-width="1.7"/>
<line x1="641.60" y1="494.00" x2="648.40" y2="494.00" stroke="#000" stroke-width="1.7"/>
<line x1="645.00" y1="490.60" x2="645.00" y2="497.40" stroke="#000" stroke-width="1.7"/>
<line x1="669.50" y1="494.00" x2="676.30" y2="494.00" stroke="#000" stroke-width="1.7"/>
<line x1="672.90" y1="490.60" x2="672.90" y2="497.40" stroke="#000" stroke-width="1.7"/>
<line x1="588.30" y1="519.20" x2="592.80" y2="519.20" stroke="#000" stroke-width="1.8"/>
<line x1="616.00" y1="519.20" x2="620.10" y2="519.20" stroke="#000" stroke-width="1.8"/>
<text x="645.6" y="524.2" font-size="13.3" font-weight="bold" text-anchor="middle" fill="#000" >100</text>
<text x="672.6" y="524.2" font-size="13.3" font-weight="bold" text-anchor="middle" fill="#000" >200</text>
<polyline points="83.70,441.00 83.70,358.60 136.40,358.60 136.40,380.30" fill="none" stroke="#000" stroke-width="1.0"/>
<text x="109.3" y="360.0" font-size="8.2" font-weight="bold" text-anchor="middle" fill="#111">**</text>
<text x="100.1" y="368.0" font-size="6.5" font-weight="bold" text-anchor="start" fill="#111">P&lt;0.01</text>
<polyline points="83.70,432.50 83.70,381.30 110.40,381.30 110.40,404.60" fill="none" stroke="#000" stroke-width="1.0"/>
<text x="97.5" y="382.8" font-size="8.2" font-weight="bold" text-anchor="middle" fill="#111">**</text>
<text x="88.0" y="389.1" font-size="6.5" font-weight="bold" text-anchor="start" fill="#111">P&lt;0.01</text>
<polyline points="263.50,446.40 263.50,367.20 317.40,367.20 317.40,382.80" fill="none" stroke="#000" stroke-width="1.7"/>
<text x="287.6" y="367.5" font-size="8.2" font-weight="bold" text-anchor="middle" fill="#111">**</text>
<text x="277.9" y="375.3" font-size="6.5" font-weight="bold" text-anchor="start" fill="#111">P&lt;0.01</text>
<polyline points="263.50,446.40 263.50,383.30 290.30,383.30 290.30,405.40" fill="none" stroke="#000" stroke-width="1.7"/>
<text x="278.0" y="384.4" font-size="8.2" font-weight="bold" text-anchor="middle" fill="#111">*</text>
<text x="267.8" y="391.8" font-size="6.5" font-weight="bold" text-anchor="start" fill="#111">P=0.02</text>
<polyline points="438.70,374.70 438.70,358.60 490.70,358.60 490.70,415.40" fill="none" stroke="#000" stroke-width="0.9"/>
<text x="464.4" y="359.2" font-size="8.2" font-weight="bold" text-anchor="middle" fill="#111">**</text>
<text x="454.4" y="365.7" font-size="6.5" font-weight="bold" text-anchor="start" fill="#111">P&lt;0.01</text>
<text x="452.8" y="369.9" font-size="6.5" font-weight="bold" text-anchor="middle" fill="#111">*</text>
<polyline points="438.70,374.70 438.70,369.40 464.40,369.40 464.40,390.30" fill="none" stroke="#000" stroke-width="0.9"/>
<text x="442.1" y="376.5" font-size="6.5" font-weight="bold" text-anchor="start" fill="#111">P=0.04</text>
<polyline points="614.80,378.50 614.80,359.50 667.30,359.50 667.30,424.70" fill="none" stroke="#000" stroke-width="0.9"/>
<text x="641.3" y="360.6" font-size="8.2" font-weight="bold" text-anchor="middle" fill="#111">**</text>
<text x="630.3" y="365.6" font-size="6.5" font-weight="bold" text-anchor="start" fill="#111">P&lt;0.01</text>
<polyline points="614.80,378.50 614.80,371.40 641.50,371.40 641.50,395.70" fill="none" stroke="#000" stroke-width="0.9"/>
<text x="627.7" y="372.7" font-size="8.2" font-weight="bold" text-anchor="middle" fill="#111">**</text>
<text x="617.6" y="378.3" font-size="6.5" font-weight="bold" text-anchor="start" fill="#111">P&lt;0.01</text>
</svg>
</body></html>
